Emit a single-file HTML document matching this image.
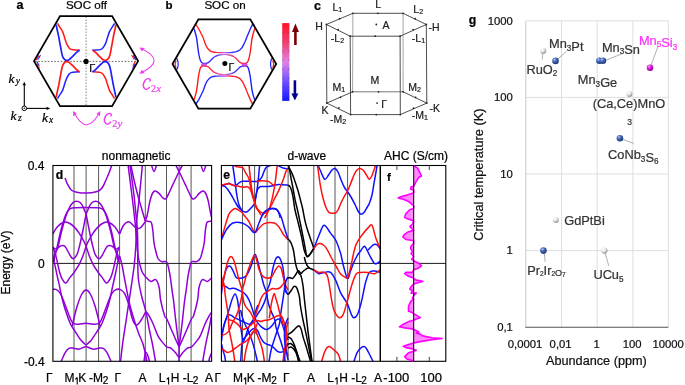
<!DOCTYPE html>
<html><head><meta charset="utf-8"><style>
html,body{margin:0;padding:0;background:#fff;width:685px;height:385px;overflow:hidden}
svg{display:block;will-change:transform}
text{font-family:"Liberation Sans",sans-serif}
</style></head><body>
<svg width="685" height="385" viewBox="0 0 685 385">
<rect width="685" height="385" fill="#fff"/>
<line x1="86.05" y1="16.5" x2="86.05" y2="105.5" stroke="#777" stroke-width="0.9" stroke-dasharray="1.5,1.5"/>
<line x1="35" y1="61.4" x2="137.5" y2="61.4" stroke="#555" stroke-width="0.9" stroke-dasharray="1.6,1.6"/>
<path d="M57.5,23.4C57.9,24.1 59.2,26.1 60.0,27.5C60.9,28.9 61.9,30.0 62.7,31.9C63.5,33.8 64.4,37.0 65.0,39.0C65.7,41.0 65.9,42.1 66.6,43.6C67.3,45.1 68.3,46.8 69.0,47.8C69.8,48.8 69.9,49.0 71.1,49.4C72.3,49.8 74.6,50.0 76.0,50.1C77.5,50.2 79.0,50.1 79.6,50.1" stroke="#ff1a1a" stroke-width="1.5" fill="none" />
<path d="M56.2,24.7C56.3,25.3 56.4,25.9 56.8,28.0C57.2,30.1 58.1,33.9 58.8,37.1C59.4,40.4 60.0,44.2 60.7,47.5C61.3,50.8 61.9,54.5 62.7,56.6C63.5,58.7 64.3,59.4 65.3,60.0C66.3,60.6 67.3,60.6 68.5,60.0C69.7,59.4 71.1,57.8 72.4,56.6C73.7,55.4 75.1,53.8 76.3,52.7C77.5,51.6 79.0,50.5 79.6,50.1" stroke="#2020ff" stroke-width="1.7" fill="none" />
<path d="M114.6,23.4C114.2,24.1 112.9,26.1 112.0,27.5C111.2,28.9 110.2,30.0 109.4,31.9C108.6,33.8 107.7,37.0 107.0,39.0C106.4,41.0 106.2,42.1 105.5,43.6C104.8,45.1 103.8,46.8 103.0,47.8C102.3,48.8 102.2,49.0 101.0,49.4C99.8,49.8 97.5,50.0 96.0,50.1C94.6,50.2 93.1,50.1 92.5,50.1" stroke="#2020ff" stroke-width="1.5" fill="none" />
<path d="M115.9,24.7C115.8,25.3 115.7,25.9 115.3,28.0C114.9,30.1 113.9,33.9 113.3,37.1C112.7,40.4 112.1,44.2 111.4,47.5C110.8,50.8 110.2,54.5 109.4,56.6C108.6,58.7 107.8,59.4 106.8,60.0C105.8,60.6 104.8,60.6 103.6,60.0C102.4,59.4 101.0,57.8 99.7,56.6C98.4,55.4 97.0,53.8 95.8,52.7C94.6,51.6 93.0,50.5 92.5,50.1" stroke="#ff1a1a" stroke-width="1.7" fill="none" />
<path d="M57.5,98.6C57.9,97.9 59.2,95.9 60.0,94.5C60.9,93.1 61.9,92.0 62.7,90.1C63.5,88.2 64.4,85.0 65.0,83.0C65.7,81.0 65.9,79.9 66.6,78.4C67.3,76.9 68.3,75.2 69.0,74.2C69.8,73.2 69.9,73.0 71.1,72.6C72.3,72.2 74.6,72.0 76.0,71.9C77.5,71.8 79.0,71.9 79.6,71.9" stroke="#2020ff" stroke-width="1.5" fill="none" />
<path d="M56.2,97.3C56.3,96.8 56.4,96.1 56.8,94.0C57.2,91.9 58.1,88.2 58.8,84.9C59.4,81.7 60.0,77.8 60.7,74.5C61.3,71.2 61.9,67.5 62.7,65.4C63.5,63.3 64.3,62.6 65.3,62.0C66.3,61.4 67.3,61.4 68.5,62.0C69.7,62.6 71.1,64.2 72.4,65.4C73.7,66.6 75.1,68.2 76.3,69.3C77.5,70.4 79.0,71.5 79.6,71.9" stroke="#ff1a1a" stroke-width="1.7" fill="none" />
<path d="M114.6,98.6C114.2,97.9 112.9,95.9 112.0,94.5C111.2,93.1 110.2,92.0 109.4,90.1C108.6,88.2 107.7,85.0 107.0,83.0C106.4,81.0 106.2,79.9 105.5,78.4C104.8,76.9 103.8,75.2 103.0,74.2C102.3,73.2 102.2,73.0 101.0,72.6C99.8,72.2 97.5,72.0 96.0,71.9C94.6,71.8 93.1,71.9 92.5,71.9" stroke="#ff1a1a" stroke-width="1.5" fill="none" />
<path d="M115.9,97.3C115.8,96.8 115.7,96.1 115.3,94.0C114.9,91.9 113.9,88.2 113.3,84.9C112.7,81.7 112.1,77.8 111.4,74.5C110.8,71.2 110.2,67.5 109.4,65.4C108.6,63.3 107.8,62.6 106.8,62.0C105.8,61.4 104.8,61.4 103.6,62.0C102.4,62.6 101.0,64.2 99.7,65.4C98.4,66.6 97.0,68.2 95.8,69.3C94.6,70.4 93.0,71.5 92.5,71.9" stroke="#2020ff" stroke-width="1.7" fill="none" />
<line x1="36.43" y1="59.70" x2="38.63" y2="55.89" stroke="#ff1a1a" stroke-width="1.1" stroke-linecap="round"/>
<line x1="38.06" y1="59.26" x2="40.27" y2="55.45" stroke="#2020ff" stroke-width="1.1" stroke-linecap="round"/>
<line x1="36.99" y1="61.88" x2="39.09" y2="65.52" stroke="#2020ff" stroke-width="1.1" stroke-linecap="round"/>
<line x1="37.03" y1="63.94" x2="39.33" y2="67.92" stroke="#ff1a1a" stroke-width="1.1" stroke-linecap="round"/>
<line x1="135.67" y1="59.70" x2="133.47" y2="55.89" stroke="#2020ff" stroke-width="1.1" stroke-linecap="round"/>
<line x1="134.03" y1="59.26" x2="131.84" y2="55.45" stroke="#ff1a1a" stroke-width="1.1" stroke-linecap="round"/>
<line x1="135.11" y1="61.88" x2="133.01" y2="65.52" stroke="#ff1a1a" stroke-width="1.1" stroke-linecap="round"/>
<line x1="135.07" y1="63.94" x2="132.77" y2="67.92" stroke="#2020ff" stroke-width="1.1" stroke-linecap="round"/>
<polygon points="34.0,61.1 60.0,16.1 112.1,16.1 138.1,61.1 112.1,106.1 60.0,106.1" fill="none" stroke="#000" stroke-width="1.8" stroke-linejoin="miter"/>
<circle cx="86.05" cy="61.4" r="2.6" fill="#000"/>
<text x="89.2" y="71.8" font-size="11" text-anchor="start" font-weight="normal" fill="#000"  stroke="#000" stroke-width="0.22">Γ</text>
<defs>
<linearGradient id="gRB" x1="0" y1="0" x2="1" y2="0"><stop offset="0" stop-color="#ff1a1a"/><stop offset="0.35" stop-color="#ff2a3a"/><stop offset="0.55" stop-color="#c050e0"/><stop offset="0.7" stop-color="#4040ff"/><stop offset="1" stop-color="#2020ff"/></linearGradient>
<linearGradient id="gBR" x1="0" y1="0" x2="1" y2="0"><stop offset="0" stop-color="#2020ff"/><stop offset="0.35" stop-color="#3030ff"/><stop offset="0.55" stop-color="#c050e0"/><stop offset="0.7" stop-color="#ff2a3a"/><stop offset="1" stop-color="#ff1a1a"/></linearGradient>
<linearGradient id="gOT" x1="0" y1="0" x2="1" y2="0"><stop offset="0" stop-color="#3030ff"/><stop offset="0.45" stop-color="#e070e0"/><stop offset="0.7" stop-color="#f060b0"/><stop offset="1" stop-color="#ff2040"/></linearGradient>
<linearGradient id="gOB" x1="0" y1="0" x2="1" y2="0"><stop offset="0" stop-color="#ff2040"/><stop offset="0.3" stop-color="#f060b0"/><stop offset="0.55" stop-color="#e070e0"/><stop offset="1" stop-color="#3030ff"/></linearGradient>
<linearGradient id="cbar" x1="0" y1="0" x2="0" y2="1"><stop offset="0" stop-color="#ff1028"/><stop offset="0.25" stop-color="#f04070"/><stop offset="0.5" stop-color="#e080e8"/><stop offset="0.75" stop-color="#7050ff"/><stop offset="1" stop-color="#1818ff"/></linearGradient>
<radialGradient id="sphB" cx="0.35" cy="0.3" r="0.75"><stop offset="0" stop-color="#b8cdf0"/><stop offset="0.35" stop-color="#4a6fc0"/><stop offset="1" stop-color="#1a2e6e"/></radialGradient>
<radialGradient id="sphW" cx="0.35" cy="0.3" r="0.75"><stop offset="0" stop-color="#ffffff"/><stop offset="0.45" stop-color="#e6e6e6"/><stop offset="1" stop-color="#8c8c8c"/></radialGradient>
<radialGradient id="sphM" cx="0.35" cy="0.3" r="0.75"><stop offset="0" stop-color="#ffa0ff"/><stop offset="0.4" stop-color="#e020e0"/><stop offset="1" stop-color="#8a008a"/></radialGradient>
</defs>
<linearGradient id="gRBu" gradientUnits="userSpaceOnUse" x1="210.35" y1="0" x2="238.35" y2="0"><stop offset="0" stop-color="#ff1a1a"/><stop offset="0.3" stop-color="#ff3050"/><stop offset="0.5" stop-color="#d060e0"/><stop offset="0.7" stop-color="#5040ff"/><stop offset="1" stop-color="#2020ff"/></linearGradient>
<linearGradient id="gBRu" gradientUnits="userSpaceOnUse" x1="210.35" y1="0" x2="238.35" y2="0"><stop offset="0" stop-color="#2020ff"/><stop offset="0.3" stop-color="#5040ff"/><stop offset="0.5" stop-color="#d060e0"/><stop offset="0.7" stop-color="#ff3050"/><stop offset="1" stop-color="#ff1a1a"/></linearGradient>
<linearGradient id="gOTu" gradientUnits="userSpaceOnUse" x1="205.35" y1="0" x2="243.35" y2="0"><stop offset="0" stop-color="#2020ff"/><stop offset="0.2" stop-color="#3a30ff"/><stop offset="0.5" stop-color="#c070e8"/><stop offset="0.8" stop-color="#ff3050"/><stop offset="1" stop-color="#ff1a1a"/></linearGradient>
<linearGradient id="gOBu" gradientUnits="userSpaceOnUse" x1="205.35" y1="0" x2="243.35" y2="0"><stop offset="0" stop-color="#ff1a1a"/><stop offset="0.2" stop-color="#ff3050"/><stop offset="0.5" stop-color="#e070d0"/><stop offset="0.8" stop-color="#3a30ff"/><stop offset="1" stop-color="#2020ff"/></linearGradient>
<path d="M195.8,24.5C196.4,25.4 198.0,27.5 199.2,29.7C200.3,31.9 201.9,35.0 203.0,37.5C204.1,40.0 204.9,43.1 205.8,45.0C206.6,46.9 207.2,47.9 208.2,49.0C209.1,50.1 210.2,51.1 211.6,51.7C213.0,52.3 214.5,52.2 216.3,52.4C218.2,52.5 220.3,52.6 222.5,52.6C224.8,52.6 228.2,52.7 230.0,52.6C231.9,52.5 232.5,52.4 233.8,52.2C235.2,52.0 236.5,51.9 237.8,51.2C239.2,50.5 240.7,49.2 241.8,47.8C243.0,46.3 243.7,44.5 244.7,42.5C245.6,40.5 246.6,37.8 247.5,35.5C248.5,33.2 249.7,30.4 250.5,28.5C251.4,26.6 252.3,24.9 252.7,24.2" stroke="url(#gRBu)" stroke-width="1.35" fill="none"/>
<path d="M195.8,104.1C196.4,103.2 198.0,101.1 199.2,98.9C200.3,96.7 201.9,93.6 203.0,91.1C204.1,88.5 204.9,85.5 205.8,83.6C206.6,81.7 207.2,80.7 208.2,79.6C209.1,78.5 210.2,77.5 211.6,76.9C213.0,76.3 214.5,76.3 216.3,76.2C218.2,76.0 220.3,76.0 222.5,76.0C224.8,76.0 228.2,75.9 230.0,76.0C231.9,76.1 232.5,76.2 233.8,76.4C235.2,76.6 236.5,76.7 237.8,77.4C239.2,78.1 240.7,79.3 241.8,80.8C243.0,82.2 243.7,84.0 244.7,86.1C245.6,88.1 246.6,90.8 247.5,93.1C248.5,95.4 249.7,98.2 250.5,100.1C251.4,102.0 252.3,103.7 252.7,104.4" stroke="url(#gBRu)" stroke-width="1.35" fill="none"/>
<path d="M193.9,28.4C194.3,29.9 195.7,33.4 196.5,37.5C197.3,41.6 197.9,49.1 198.6,53.0C199.3,56.9 199.8,59.1 200.5,60.8C201.2,62.5 201.7,62.7 202.5,63.1C203.3,63.5 204.4,63.5 205.3,63.4C206.3,63.3 207.3,63.2 208.3,62.6C209.3,62.0 210.3,60.7 211.3,59.8C212.3,58.9 213.0,57.8 214.3,57.0C215.7,56.2 217.7,55.4 219.3,55.0C221.0,54.6 222.7,54.4 224.3,54.4C226.0,54.4 227.7,54.6 229.3,55.0C231.0,55.4 233.0,56.2 234.3,57.0C235.7,57.8 236.3,58.9 237.3,59.8C238.3,60.7 239.3,62.0 240.3,62.6C241.3,63.2 242.4,63.3 243.3,63.4C244.3,63.5 245.4,63.5 246.2,63.1C247.0,62.7 247.5,62.5 248.2,60.8C248.8,59.1 249.4,56.9 250.1,53.0C250.8,49.1 251.4,41.6 252.2,37.5C253.0,33.4 254.4,29.9 254.8,28.4" stroke="url(#gOTu)" stroke-width="1.4" fill="none"/>
<path d="M193.9,100.2C194.3,98.7 195.7,95.2 196.5,91.1C197.3,87.0 197.9,79.5 198.6,75.6C199.3,71.7 199.8,69.4 200.5,67.8C201.2,66.2 201.7,66.3 202.5,66.0C203.3,65.7 204.4,65.8 205.3,66.0C206.3,66.2 207.3,66.3 208.3,66.9C209.3,67.5 210.3,68.9 211.3,69.8C212.3,70.7 213.0,71.6 214.3,72.3C215.7,73.0 217.7,73.7 219.3,74.1C221.0,74.5 222.7,74.6 224.3,74.6C226.0,74.6 227.7,74.5 229.3,74.1C231.0,73.7 233.0,73.0 234.3,72.3C235.7,71.6 236.3,70.7 237.3,69.8C238.3,68.9 239.3,67.5 240.3,66.9C241.3,66.3 242.4,66.2 243.3,66.0C244.3,65.8 245.4,65.7 246.2,66.0C247.0,66.3 247.5,66.2 248.2,67.8C248.8,69.4 249.4,71.7 250.1,75.6C250.8,79.5 251.4,87.0 252.2,91.1C253.0,95.2 254.4,98.7 254.8,100.2" stroke="url(#gOBu)" stroke-width="1.4" fill="none"/>
<ellipse cx="244.65" cy="64.7" rx="3.0" ry="1.7" fill="#d040d0" opacity="0.9"/>
<ellipse cx="204.04999999999998" cy="64.7" rx="3.0" ry="1.7" fill="#d040d0" opacity="0.9"/>
<path d="M176.1,60.6C176.0,61.0 175.5,62.2 175.3,62.8C175.2,63.4 175.2,63.8 175.2,64.3C175.2,64.8 175.2,65.2 175.3,65.8C175.5,66.3 176.0,67.3 176.1,67.6" stroke="#ff1a1a" stroke-width="1.2" fill="none" />
<path d="M176.3,57.8C176.5,58.2 177.4,59.4 177.7,60.5C178.0,61.6 178.1,63.1 178.1,64.3C178.1,65.5 178.0,66.5 177.7,67.5C177.4,68.5 176.5,69.8 176.3,70.2" stroke="#2020ff" stroke-width="1.2" fill="none" />
<path d="M272.6,60.6C272.7,61.0 273.2,62.2 273.4,62.8C273.5,63.4 273.5,63.8 273.5,64.3C273.5,64.8 273.5,65.2 273.4,65.8C273.2,66.3 272.7,67.3 272.6,67.6" stroke="#ff1a1a" stroke-width="1.2" fill="none" />
<path d="M272.4,57.8C272.2,58.2 271.3,59.4 271.0,60.5C270.7,61.6 270.6,63.1 270.6,64.3C270.6,65.5 270.7,66.5 271.0,67.5C271.3,68.5 272.2,69.8 272.4,70.2" stroke="#2020ff" stroke-width="1.2" fill="none" />
<polygon points="172.5,64.0 198.4,19.3 250.3,19.3 276.2,64.0 250.3,108.7 198.4,108.7" fill="none" stroke="#000" stroke-width="1.8" stroke-linejoin="miter"/>
<circle cx="224.85" cy="63.5" r="2.5" fill="#000"/>
<text x="228.4" y="70.6" font-size="10.5" text-anchor="start" font-weight="normal" fill="#000"  stroke="#000" stroke-width="0.22">Γ</text>
<rect x="282.2" y="23.1" width="7.2" height="77.8" fill="url(#cbar)"/>
<line x1="282.2" y1="32.7" x2="283.6" y2="32.7" stroke="#555" stroke-width="0.6"/><line x1="288" y1="32.7" x2="289.4" y2="32.7" stroke="#555" stroke-width="0.6"/>
<line x1="282.2" y1="41.9" x2="283.6" y2="41.9" stroke="#555" stroke-width="0.6"/><line x1="288" y1="41.9" x2="289.4" y2="41.9" stroke="#555" stroke-width="0.6"/>
<line x1="282.2" y1="51.1" x2="283.6" y2="51.1" stroke="#555" stroke-width="0.6"/><line x1="288" y1="51.1" x2="289.4" y2="51.1" stroke="#555" stroke-width="0.6"/>
<line x1="282.2" y1="60.2" x2="283.6" y2="60.2" stroke="#555" stroke-width="0.6"/><line x1="288" y1="60.2" x2="289.4" y2="60.2" stroke="#555" stroke-width="0.6"/>
<line x1="282.2" y1="69.2" x2="283.6" y2="69.2" stroke="#555" stroke-width="0.6"/><line x1="288" y1="69.2" x2="289.4" y2="69.2" stroke="#555" stroke-width="0.6"/>
<line x1="282.2" y1="78.3" x2="283.6" y2="78.3" stroke="#555" stroke-width="0.6"/><line x1="288" y1="78.3" x2="289.4" y2="78.3" stroke="#555" stroke-width="0.6"/>
<line x1="282.2" y1="87.5" x2="283.6" y2="87.5" stroke="#555" stroke-width="0.6"/><line x1="288" y1="87.5" x2="289.4" y2="87.5" stroke="#555" stroke-width="0.6"/>
<rect x="294.1" y="31" width="2.6" height="14" fill="#7a0008"/><polygon points="292,32 295.4,23.6 299,32" fill="#7a0008"/>
<rect x="293.6" y="80.3" width="2.6" height="14" fill="#000090"/><polygon points="291.4,93.5 294.9,100.6 298.4,93.5" fill="#000090"/>
<text x="16.4" y="8.9" font-size="12.5" text-anchor="start" font-weight="bold" fill="#000"  stroke="#000" stroke-width="0.22">a</text>
<text x="65.9" y="8.8" font-size="11.6" text-anchor="start" font-weight="normal" fill="#000"  stroke="#000" stroke-width="0.22">SOC off</text>
<text x="165.6" y="9.0" font-size="11.5" text-anchor="start" font-weight="bold" fill="#000"  stroke="#000" stroke-width="0.22">b</text>
<text x="204.4" y="8.8" font-size="11.6" text-anchor="start" font-weight="normal" fill="#000"  stroke="#000" stroke-width="0.22">SOC on</text>
<text x="314.0" y="9.8" font-size="12.5" text-anchor="start" font-weight="bold" fill="#000"  stroke="#000" stroke-width="0.22">c</text>
<path d="M141.2,48.4 Q167,60.5 141.2,72.8" stroke="#ee40ee" stroke-width="1.1" fill="none"/>
<polygon points="139.4,47.4 144.8,47.9 141.9,51.4" fill="#ee40ee"/><polygon points="139.4,73.8 144.8,73.3 141.9,69.8" fill="#ee40ee"/>
<path d="M74,112.4 Q86.8,137 99.4,112.6" stroke="#ee40ee" stroke-width="1.1" fill="none"/>
<polygon points="73.0,110.9 73.3,116.4 76.8,113.6" fill="#ee40ee"/><polygon points="100.3,111.1 99.9,116.6 96.5,113.7" fill="#ee40ee"/>
<path d="M150.4,79.7C150.1,79.5 149.5,78.7 148.8,78.6C148.1,78.5 147.0,78.7 146.2,79.2C145.4,79.7 144.7,80.8 144.2,81.8C143.7,82.8 143.2,83.9 143.1,84.9C143.0,85.9 143.5,87.3 143.9,88.0C144.3,88.7 145.1,89.2 145.7,89.3C146.4,89.4 147.1,89.2 147.8,88.8C148.5,88.4 149.6,87.3 149.9,87.0" stroke="#ee40ee" stroke-width="1.25" fill="none"/><path d="M146.7,79.2C146.3,79.6 145.2,80.8 144.7,81.8C144.1,82.8 143.6,83.9 143.5,84.9C143.5,85.9 143.9,87.3 144.3,88.0C144.8,88.7 145.8,89.1 146.2,89.3" stroke="#ee40ee" stroke-width="0.9" fill="none"/><circle cx="150.20000000000002" cy="80.1" r="0.95" fill="#ee40ee"/><path d="M150.5,80.19999999999999 Q150.20000000000002,81.39999999999999 149.5,81.89999999999999" stroke="#ee40ee" stroke-width="0.8" fill="none"/>
<text x="150.9" y="91.9" style="font-family:Liberation Serif,serif" font-size="10" fill="#ee40ee" stroke="#ee40ee" stroke-width="0.22">2</text><text x="156.3" y="91.9" style="font-family:Liberation Serif,serif;font-style:italic" font-size="11" fill="#ee40ee" stroke="#ee40ee" stroke-width="0.22">x</text>
<path d="M111.5,114.5C111.2,114.3 110.6,113.5 109.9,113.4C109.2,113.3 108.1,113.5 107.3,114.0C106.5,114.5 105.8,115.7 105.3,116.6C104.8,117.6 104.2,118.7 104.2,119.7C104.2,120.7 104.6,122.1 105.0,122.8C105.4,123.5 106.1,124.0 106.8,124.1C107.5,124.2 108.2,124.0 108.9,123.6C109.6,123.2 110.7,122.1 111.0,121.8" stroke="#ee40ee" stroke-width="1.25" fill="none"/><path d="M107.8,114.0C107.4,114.4 106.3,115.7 105.8,116.6C105.2,117.6 104.7,118.7 104.7,119.7C104.6,120.7 105.0,122.1 105.5,122.8C105.9,123.5 107.0,123.9 107.2,124.1" stroke="#ee40ee" stroke-width="0.9" fill="none"/><circle cx="111.3" cy="114.9" r="0.95" fill="#ee40ee"/><path d="M111.6,115.0 Q111.3,116.2 110.6,116.7" stroke="#ee40ee" stroke-width="0.8" fill="none"/>
<text x="112.3" y="126.9" style="font-family:Liberation Serif,serif" font-size="10" fill="#ee40ee" stroke="#ee40ee" stroke-width="0.22">2</text><text x="117.6" y="126.6" style="font-family:Liberation Serif,serif;font-style:italic" font-size="11" fill="#ee40ee" stroke="#ee40ee" stroke-width="0.22">y</text>
<line x1="24.3" y1="108.4" x2="24.3" y2="85" stroke="#000" stroke-width="1.1"/><polygon points="22.6,85.3 24.3,81.8 26.0,85.3" fill="#000"/>
<line x1="24.3" y1="108.4" x2="47.5" y2="108.4" stroke="#000" stroke-width="1.1"/><polygon points="46.6,106.7 50.2,108.4 46.6,110.1" fill="#000"/>
<circle cx="24.3" cy="108.3" r="2.3" fill="#fff" stroke="#000" stroke-width="1.0"/><circle cx="24.3" cy="108.3" r="0.7" fill="#000"/>
<text x="8.4" y="82.6" style="font-family:Liberation Serif,serif;font-style:italic" font-size="13.5" stroke="#000" stroke-width="0.22">k</text><text x="15.7" y="84.39999999999999" style="font-family:Liberation Serif,serif;font-style:italic" font-size="9.5" stroke="#000" stroke-width="0.22">y</text>
<text x="10.6" y="119.8" style="font-family:Liberation Serif,serif;font-style:italic" font-size="13.5" stroke="#000" stroke-width="0.22">k</text><text x="18.0" y="121.39999999999999" style="font-family:Liberation Serif,serif;font-style:italic" font-size="9.5" stroke="#000" stroke-width="0.22">z</text>
<text x="42.0" y="121.8" style="font-family:Liberation Serif,serif;font-style:italic" font-size="13.5" stroke="#000" stroke-width="0.22">k</text><text x="49.0" y="123.39999999999999" style="font-family:Liberation Serif,serif;font-style:italic" font-size="9.5" stroke="#000" stroke-width="0.22">x</text>
<line x1="352.9" y1="13.3" x2="352.6" y2="91.8" stroke="#9a9a9a" stroke-width="0.9"/>
<line x1="403.1" y1="13.3" x2="403.1" y2="91.8" stroke="#9a9a9a" stroke-width="0.9"/>
<line x1="326.8" y1="103.1" x2="352.6" y2="91.8" stroke="#3a3a3a" stroke-width="0.9"/>
<line x1="352.6" y1="91.8" x2="403.1" y2="91.8" stroke="#666" stroke-width="0.9"/>
<line x1="403.1" y1="91.8" x2="426.8" y2="103.1" stroke="#3a3a3a" stroke-width="0.9"/>
<line x1="326.4" y1="24.5" x2="352.9" y2="13.3" stroke="#3a3a3a" stroke-width="0.9"/>
<line x1="352.9" y1="13.3" x2="403.1" y2="13.3" stroke="#3a3a3a" stroke-width="0.9"/>
<line x1="403.1" y1="13.3" x2="426.3" y2="24.5" stroke="#3a3a3a" stroke-width="0.9"/>
<line x1="426.3" y1="24.5" x2="400.1" y2="36.2" stroke="#3a3a3a" stroke-width="0.9"/>
<line x1="400.1" y1="36.2" x2="350.2" y2="36.2" stroke="#3a3a3a" stroke-width="0.9"/>
<line x1="350.2" y1="36.2" x2="326.4" y2="24.5" stroke="#3a3a3a" stroke-width="0.9"/>
<line x1="426.8" y1="103.1" x2="400.3" y2="114.6" stroke="#3a3a3a" stroke-width="0.9"/>
<line x1="400.3" y1="114.6" x2="350.6" y2="114.6" stroke="#3a3a3a" stroke-width="0.9"/>
<line x1="350.6" y1="114.6" x2="326.8" y2="103.1" stroke="#3a3a3a" stroke-width="0.9"/>
<line x1="326.4" y1="24.5" x2="326.8" y2="103.1" stroke="#3a3a3a" stroke-width="0.9"/>
<line x1="426.3" y1="24.5" x2="426.8" y2="103.1" stroke="#3a3a3a" stroke-width="0.9"/>
<line x1="350.2" y1="36.2" x2="350.6" y2="114.6" stroke="#3a3a3a" stroke-width="0.9"/>
<line x1="400.1" y1="36.2" x2="400.3" y2="114.6" stroke="#3a3a3a" stroke-width="0.9"/>
<circle cx="377.8" cy="13.3" r="0.9" fill="#222"/>
<circle cx="376.3" cy="24.5" r="0.9" fill="#222"/>
<circle cx="375.2" cy="36.2" r="0.9" fill="#222"/>
<circle cx="339.6" cy="18.7" r="0.9" fill="#222"/>
<circle cx="338.1" cy="29.6" r="0.9" fill="#222"/>
<circle cx="415.1" cy="18.7" r="0.9" fill="#222"/>
<circle cx="413.1" cy="29.6" r="0.9" fill="#222"/>
<circle cx="378.6" cy="91.8" r="0.9" fill="#222"/>
<circle cx="377.1" cy="103.1" r="0.9" fill="#222"/>
<circle cx="376.3" cy="114.6" r="0.9" fill="#222"/>
<circle cx="340.4" cy="97.3" r="0.9" fill="#222"/>
<circle cx="338.9" cy="107.9" r="0.9" fill="#222"/>
<circle cx="415.6" cy="97.3" r="0.9" fill="#222"/>
<circle cx="413.5" cy="108.2" r="0.9" fill="#222"/>
<circle cx="352.9" cy="13.3" r="0.9" fill="#222"/>
<circle cx="403.1" cy="13.3" r="0.9" fill="#222"/>
<circle cx="326.4" cy="24.5" r="0.9" fill="#222"/>
<circle cx="426.3" cy="24.5" r="0.9" fill="#222"/>
<circle cx="400.1" cy="36.2" r="0.9" fill="#222"/>
<circle cx="350.2" cy="36.2" r="0.9" fill="#222"/>
<circle cx="326.8" cy="103.1" r="0.9" fill="#222"/>
<circle cx="426.8" cy="103.1" r="0.9" fill="#222"/>
<circle cx="350.6" cy="114.6" r="0.9" fill="#222"/>
<circle cx="400.3" cy="114.6" r="0.9" fill="#222"/>
<circle cx="352.6" cy="91.8" r="0.9" fill="#222"/>
<circle cx="403.1" cy="91.8" r="0.9" fill="#222"/>
<text x="332.4" y="10.6" font-size="10.5" fill="#222" stroke="#222" stroke-width="0.22">L<tspan font-size="7.1" dy="1.0">1</tspan></text>
<text x="375.3" y="7.5" font-size="10.5" fill="#222" stroke="#222" stroke-width="0.22">L</text>
<text x="413.3" y="12.5" font-size="10.5" fill="#222" stroke="#222" stroke-width="0.22">L<tspan font-size="7.1" dy="1.0">2</tspan></text>
<text x="315.3" y="30.0" font-size="10.5" fill="#222" stroke="#222" stroke-width="0.22">H</text>
<text x="428.6" y="30.6" font-size="10.5" fill="#222" stroke="#222" stroke-width="0.22">-H</text>
<text x="382.6" y="28.8" font-size="10.5" fill="#222" stroke="#222" stroke-width="0.22">A</text>
<text x="330.8" y="42.0" font-size="10.5" fill="#222" stroke="#222" stroke-width="0.22">-L<tspan font-size="7.1" dy="1.0">2</tspan></text>
<text x="411.8" y="41.6" font-size="10.5" fill="#222" stroke="#222" stroke-width="0.22">-L<tspan font-size="7.1" dy="1.0">1</tspan></text>
<text x="332.4" y="91.0" font-size="10.5" fill="#222" stroke="#222" stroke-width="0.22">M<tspan font-size="7.1" dy="1.0">1</tspan></text>
<text x="370.6" y="84.0" font-size="10.5" fill="#222" stroke="#222" stroke-width="0.22">M</text>
<text x="408.3" y="91.1" font-size="10.5" fill="#222" stroke="#222" stroke-width="0.22">M<tspan font-size="7.1" dy="1.0">2</tspan></text>
<text x="321.5" y="114.4" font-size="10.5" fill="#222" stroke="#222" stroke-width="0.22">K</text>
<text x="429.4" y="112.3" font-size="10.5" fill="#222" stroke="#222" stroke-width="0.22">-K</text>
<text x="381.2" y="108.2" font-size="10.5" fill="#222" stroke="#222" stroke-width="0.22">Γ</text>
<text x="330.1" y="122.5" font-size="10.5" fill="#222" stroke="#222" stroke-width="0.22">-M<tspan font-size="7.1" dy="1.0">2</tspan></text>
<text x="411.8" y="119.3" font-size="10.5" fill="#222" stroke="#222" stroke-width="0.22">-M<tspan font-size="7.1" dy="1.0">1</tspan></text>
<clipPath id="clipd"><rect x="52.9" y="165.5" width="158.7" height="195.8"/></clipPath>
<line x1="74.0" y1="165.5" x2="74.0" y2="361.3" stroke="#444" stroke-width="0.9"/>
<line x1="86.1" y1="165.5" x2="86.1" y2="361.3" stroke="#444" stroke-width="0.9"/>
<line x1="98.6" y1="165.5" x2="98.6" y2="361.3" stroke="#444" stroke-width="0.9"/>
<line x1="119.6" y1="165.5" x2="119.6" y2="361.3" stroke="#444" stroke-width="0.9"/>
<line x1="145.3" y1="165.5" x2="145.3" y2="361.3" stroke="#444" stroke-width="0.9"/>
<line x1="166.5" y1="165.5" x2="166.5" y2="361.3" stroke="#444" stroke-width="0.9"/>
<line x1="179.1" y1="165.5" x2="179.1" y2="361.3" stroke="#444" stroke-width="0.9"/>
<line x1="191.1" y1="165.5" x2="191.1" y2="361.3" stroke="#444" stroke-width="0.9"/>
<line x1="52.9" y1="263.4" x2="211.6" y2="263.4" stroke="#000" stroke-width="0.9"/>
<g clip-path="url(#clipd)">
<path d="M65.0,177.9C65.4,179.0 66.5,182.3 67.6,184.4C68.7,186.5 70.0,189.0 71.5,190.3C73.0,191.6 74.2,191.7 76.7,192.2C79.2,192.7 83.2,193.2 86.4,193.1C89.7,193.0 93.9,192.4 96.2,191.8C98.5,191.2 99.3,190.6 100.5,189.6C101.7,188.6 102.4,187.3 103.2,186.0C104.0,184.7 104.4,183.6 105.3,181.5C106.2,179.4 107.6,176.4 108.8,173.5C110.0,170.6 111.6,165.6 112.2,164.0" stroke="#9000d8" stroke-width="1.5" fill="none" />
<path d="M86.1,345.1C85.2,344.3 82.7,342.3 81.0,340.3C79.3,338.3 77.5,335.1 76.2,333.2C75.0,331.3 74.5,330.5 73.5,329.0C72.5,327.5 71.8,326.8 70.5,324.0C69.2,321.2 67.3,316.0 66.0,312.0C64.7,308.0 63.6,304.5 62.5,300.0C61.4,295.5 60.3,290.0 59.3,285.2C58.2,280.4 57.0,275.1 56.2,271.2C55.4,267.3 54.7,264.4 54.3,262.0C53.9,259.6 53.7,258.7 53.9,257.0C54.1,255.3 54.9,253.6 55.5,252.0C56.1,250.4 56.8,251.2 57.8,247.7C58.8,244.2 60.4,235.9 61.7,230.8C63.0,225.7 64.5,220.7 65.6,217.1C66.7,213.5 67.5,211.6 68.5,209.5C69.5,207.4 70.5,205.6 71.5,204.3C72.5,203.0 73.5,202.1 74.7,201.6C75.9,201.1 77.4,201.1 78.6,201.6C79.8,202.1 80.9,203.1 81.9,204.6C82.9,206.1 83.8,208.8 84.5,210.5C85.2,212.2 85.3,211.2 86.1,214.5C86.9,217.8 88.2,225.1 89.2,230.0C90.2,234.9 91.2,240.0 92.2,244.0C93.2,248.0 93.9,251.6 95.0,254.0C96.1,256.4 97.6,258.4 98.8,258.7C100.0,259.0 100.6,257.7 102.0,255.6C103.4,253.5 105.7,247.8 107.4,246.2C109.1,244.6 110.7,245.7 112.1,246.2C113.5,246.7 114.8,248.8 116.0,249.0C117.2,249.2 119.0,247.5 119.6,247.2" stroke="#9000d8" stroke-width="1.5" fill="none" />
<path d="M52.6,247.2C53.2,247.5 54.9,249.2 56.2,249.0C57.4,248.8 58.7,246.7 60.1,246.2C61.5,245.7 63.1,244.6 64.8,246.2C66.5,247.8 68.8,253.5 70.2,255.6C71.6,257.7 72.2,259.0 73.4,258.7C74.6,258.4 76.1,256.4 77.2,254.0C78.3,251.6 79.0,248.0 80.0,244.0C81.0,240.0 82.0,234.9 83.0,230.0C84.0,225.1 85.3,217.8 86.1,214.5C86.9,211.2 87.0,212.2 87.7,210.5C88.4,208.8 89.3,206.1 90.3,204.6C91.3,203.1 92.4,202.1 93.6,201.6C94.8,201.1 96.3,201.1 97.5,201.6C98.7,202.1 99.7,203.0 100.7,204.3C101.7,205.6 102.7,207.4 103.7,209.5C104.7,211.6 105.5,213.5 106.6,217.1C107.7,220.7 109.2,225.7 110.5,230.8C111.8,235.9 113.4,244.2 114.4,247.7C115.4,251.2 116.0,250.4 116.7,252.0C117.3,253.6 118.1,255.3 118.3,257.0C118.5,258.7 118.3,259.6 117.9,262.0C117.5,264.4 116.8,267.3 116.0,271.2C115.2,275.1 113.9,280.4 112.9,285.2C111.8,290.0 110.8,295.5 109.7,300.0C108.6,304.5 107.5,308.0 106.2,312.0C104.9,316.0 102.9,321.2 101.7,324.0C100.4,326.8 99.6,327.5 98.7,329.0C97.7,330.5 97.2,331.3 96.0,333.2C94.7,335.1 92.8,338.3 91.2,340.3C89.5,342.3 86.9,344.3 86.1,345.1" stroke="#9000d8" stroke-width="1.5" fill="none" />
<path d="M53.5,262.0C53.9,260.3 54.8,257.0 56.0,252.0C57.2,247.0 59.1,237.7 60.5,232.0C61.9,226.3 63.3,221.4 64.5,218.0C65.7,214.6 66.5,213.1 67.5,211.5C68.5,209.9 69.2,209.2 70.5,208.6C71.8,208.0 72.4,208.0 75.0,207.8C77.6,207.6 82.4,207.6 86.1,207.6C89.8,207.6 94.4,207.6 97.0,207.8C99.6,208.0 100.3,208.0 101.6,208.6C102.9,209.2 103.6,209.9 104.6,211.5C105.6,213.1 106.4,214.6 107.6,218.0C108.8,221.4 110.2,226.3 111.6,232.0C113.0,237.7 114.8,247.0 116.0,252.0C117.2,257.0 118.1,260.3 118.5,262.0" stroke="#9000d8" stroke-width="1.5" fill="none" />
<path d="M52.9,234.0C53.6,232.8 55.4,228.8 57.2,226.9C59.0,225.0 61.8,223.0 63.7,222.3C65.7,221.7 67.2,222.2 68.9,223.0C70.6,223.8 72.4,225.2 74.1,226.9C75.8,228.6 77.6,230.8 79.3,233.4C81.0,236.0 83.2,239.9 84.5,242.5C85.8,245.1 86.1,246.6 87.0,249.0C87.9,251.4 88.6,254.3 89.7,257.0C90.8,259.7 92.1,262.7 93.6,265.4C95.1,268.1 97.4,271.2 98.8,273.2C100.2,275.1 100.7,275.5 102.0,277.1C103.3,278.7 105.1,282.8 106.5,283.0C107.9,283.2 109.3,280.5 110.4,278.4C111.5,276.3 112.1,273.9 113.0,270.6C113.9,267.4 114.8,262.2 115.6,258.9C116.4,255.6 116.9,252.9 117.6,251.0C118.3,249.1 119.3,248.2 119.6,247.7" stroke="#9000d8" stroke-width="1.5" fill="none" />
<path d="M52.6,247.7C52.9,248.2 53.9,249.1 54.6,251.0C55.3,252.9 55.8,255.6 56.6,258.9C57.4,262.2 58.3,267.4 59.2,270.6C60.1,273.9 60.7,276.3 61.8,278.4C62.9,280.5 64.3,283.2 65.7,283.0C67.1,282.8 68.9,278.7 70.2,277.1C71.5,275.5 72.0,275.1 73.4,273.2C74.8,271.2 77.1,268.1 78.6,265.4C80.1,262.7 81.4,259.7 82.5,257.0C83.6,254.3 84.3,251.4 85.2,249.0C86.1,246.6 86.4,245.1 87.7,242.5C89.0,239.9 91.2,236.0 92.9,233.4C94.6,230.8 96.4,228.6 98.1,226.9C99.8,225.2 101.6,223.8 103.3,223.0C105.0,222.2 106.5,221.7 108.5,222.3C110.4,223.0 113.2,225.0 115.0,226.9C116.8,228.8 118.6,232.8 119.3,234.0" stroke="#9000d8" stroke-width="1.5" fill="none" />
<path d="M52.9,289.4C53.4,289.4 54.8,288.8 55.9,289.4C57.0,289.9 58.5,290.8 59.8,292.7C61.1,294.6 62.2,297.3 63.7,301.0C65.2,304.7 67.4,311.3 68.9,315.0C70.4,318.7 71.2,321.5 72.8,323.0C74.4,324.5 76.4,324.1 78.6,324.2C80.8,324.2 83.6,323.3 86.0,323.3C88.4,323.3 90.9,324.2 93.1,324.2C95.3,324.1 97.5,324.5 99.2,323.0C100.9,321.5 101.8,318.7 103.3,315.0C104.8,311.3 107.0,304.7 108.5,301.0C110.0,297.3 111.1,294.6 112.4,292.7C113.7,290.8 115.1,289.9 116.3,289.4C117.5,288.8 119.0,289.4 119.6,289.4" stroke="#9000d8" stroke-width="1.5" fill="none" />
<path d="M72.3,326.0C72.6,324.7 73.1,321.5 74.0,318.0C74.9,314.5 76.2,309.0 77.5,305.0C78.8,301.0 80.5,296.5 81.9,294.0C83.3,291.5 84.7,290.1 86.1,290.1C87.5,290.1 88.9,291.5 90.3,294.0C91.7,296.5 93.4,301.0 94.7,305.0C96.0,309.0 97.3,314.5 98.2,318.0C99.1,321.5 99.6,324.7 99.9,326.0" stroke="#9000d8" stroke-width="1.5" fill="none" />
<path d="M60.9,362.0C61.6,360.5 63.6,355.4 64.9,353.1C66.2,350.8 67.4,349.1 68.9,348.3C70.4,347.5 72.0,348.2 73.7,348.3C75.5,348.4 77.4,349.4 79.4,349.1C81.5,348.8 83.8,346.7 86.0,346.7C88.2,346.7 90.7,348.8 92.8,349.1C94.9,349.4 96.8,348.4 98.5,348.3C100.2,348.2 101.8,347.5 103.3,348.3C104.8,349.1 106.0,350.8 107.3,353.1C108.6,355.4 110.6,360.5 111.3,362.0" stroke="#9000d8" stroke-width="1.5" fill="none" />
<path d="M128.0,164.0C128.3,166.7 129.2,174.0 130.0,180.0C130.8,186.0 131.6,192.5 132.5,200.0C133.4,207.5 134.7,218.5 135.3,224.8C135.9,231.1 136.3,231.5 136.2,238.0C136.0,244.5 135.1,256.6 134.4,263.6C133.7,270.6 133.1,273.7 132.2,280.0C131.3,286.3 130.1,294.2 129.0,301.3C127.9,308.4 126.9,315.5 125.8,322.6C124.7,329.7 123.5,337.2 122.6,343.8C121.7,350.4 120.8,359.0 120.5,362.0" stroke="#9000d8" stroke-width="1.5" fill="none" />
<path d="M119.6,256.0C120.0,257.5 121.1,261.0 122.0,265.0C122.9,269.0 123.6,273.9 124.8,280.0C126.0,286.1 127.6,295.1 129.0,301.3C130.4,307.5 131.7,311.9 133.3,317.2C134.9,322.5 137.0,328.8 138.6,333.2C140.2,337.6 141.7,339.9 142.9,343.8C144.1,347.7 145.3,353.6 146.0,356.6C146.7,359.6 146.9,361.1 147.1,362.0" stroke="#9000d8" stroke-width="1.5" fill="none" />
<path d="M129.8,164.0C130.2,166.7 131.2,174.0 132.0,180.0C132.8,186.0 133.7,192.2 134.5,200.0C135.3,207.8 136.5,219.1 137.1,226.6C137.7,234.1 137.7,238.9 137.8,245.0C137.9,251.1 137.7,257.2 137.8,263.0C137.9,268.8 137.8,274.3 138.5,280.0C139.2,285.7 140.6,291.7 141.8,297.0C143.1,302.3 144.8,306.6 146.0,311.9C147.2,317.2 148.1,323.7 149.2,329.0C150.3,334.3 151.3,338.3 152.4,343.8C153.5,349.3 155.1,359.0 155.6,362.0" stroke="#9000d8" stroke-width="1.5" fill="none" />
<path d="M130.7,164.0C131.2,166.7 132.8,174.7 134.0,180.0C135.2,185.3 136.7,191.0 138.0,196.0C139.3,201.0 140.8,205.8 142.0,210.0C143.2,214.2 144.8,219.3 145.3,221.2" stroke="#9000d8" stroke-width="1.5" fill="none" />
<path d="M119.6,234.0C120.2,232.6 122.0,227.5 123.5,225.5C125.0,223.5 126.9,221.5 128.9,221.8C130.9,222.1 133.5,226.2 135.3,227.3C137.1,228.4 138.1,229.1 139.8,228.2C141.5,227.3 144.4,222.9 145.3,221.8" stroke="#9000d8" stroke-width="1.5" fill="none" />
<path d="M142.5,164.0C142.2,166.7 141.6,174.0 141.0,180.0C140.4,186.0 139.8,192.2 139.0,200.0C138.2,207.8 136.6,219.9 136.2,226.6C135.8,233.3 136.2,235.3 136.5,240.0C136.8,244.7 137.4,250.8 138.0,255.0C138.6,259.2 139.3,262.1 140.0,265.0C140.7,267.9 141.3,270.2 142.3,272.3C143.3,274.4 144.8,276.0 146.2,277.5C147.6,279.0 149.2,281.1 150.7,281.4C152.2,281.7 153.9,279.5 155.0,279.4C156.1,279.3 156.3,279.6 157.0,281.0C157.7,282.4 158.7,284.8 159.3,288.0C159.9,291.2 159.7,295.3 160.6,300.0C161.5,304.7 163.7,313.0 164.7,316.1C165.7,319.2 165.5,316.4 166.6,318.5C167.7,320.6 169.5,325.4 171.1,329.0C172.7,332.6 174.7,337.3 176.0,340.3C177.3,343.3 178.6,345.7 179.1,346.8" stroke="#9000d8" stroke-width="1.5" fill="none" />
<path d="M179.1,346.8C179.6,345.7 180.9,343.3 182.2,340.3C183.5,337.3 185.5,332.6 187.1,329.0C188.7,325.4 190.5,320.6 191.6,318.5C192.7,316.4 192.5,319.2 193.5,316.1C194.5,313.0 196.7,304.7 197.6,300.0C198.5,295.3 198.3,291.2 198.9,288.0C199.5,284.8 200.5,282.4 201.2,281.0C201.9,279.6 202.1,279.3 203.2,279.4C204.2,279.5 206.0,281.7 207.5,281.4C209.0,281.1 210.6,279.0 212.0,277.5C213.4,276.0 215.2,273.2 215.9,272.3" stroke="#9000d8" stroke-width="1.5" fill="none" />
<path d="M116.3,289.6C117.0,289.6 119.1,288.9 120.5,289.6C121.9,290.3 123.4,291.2 124.8,293.8C126.2,296.4 127.8,301.4 129.0,305.5C130.2,309.6 131.1,315.1 132.2,318.3C133.3,321.5 134.3,323.8 135.4,324.7C136.5,325.6 137.3,324.9 138.6,323.6C139.8,322.4 141.7,319.1 142.9,317.2C144.1,315.2 144.9,312.1 146.0,311.9C147.1,311.7 147.9,314.1 149.2,316.2C150.4,318.3 152.1,321.5 153.5,324.7C154.9,327.9 156.3,332.5 157.7,335.3C159.1,338.1 160.5,339.8 162.0,341.7C163.5,343.6 165.1,345.7 166.6,346.8C168.1,347.9 169.5,347.3 171.1,348.4C172.7,349.5 174.7,351.7 176.0,353.2C177.3,354.7 178.1,357.3 179.1,357.3C180.1,357.3 180.9,354.7 182.2,353.2C183.5,351.7 185.5,349.5 187.1,348.4C188.7,347.3 190.1,347.9 191.6,346.8C193.1,345.7 194.7,343.6 196.2,341.7C197.7,339.8 199.1,338.1 200.5,335.3C201.9,332.5 203.3,327.9 204.7,324.7C206.1,321.5 207.8,318.3 209.0,316.2C210.2,314.1 211.1,311.7 212.2,311.9C213.2,312.1 214.1,315.2 215.3,317.2C216.5,319.1 218.3,322.4 219.6,323.6C220.8,324.9 221.7,325.6 222.8,324.7C223.9,323.8 224.9,321.5 226.0,318.3C227.1,315.1 228.0,309.6 229.2,305.5C230.4,301.4 232.0,296.4 233.4,293.8C234.8,291.2 236.3,290.3 237.7,289.6C239.1,288.9 241.2,289.6 241.9,289.6" stroke="#9000d8" stroke-width="1.5" fill="none" />
<path d="M143.9,362.0C144.2,360.4 144.9,353.2 145.6,352.3C146.3,351.4 147.5,355.0 148.2,356.6C148.8,358.2 149.3,361.1 149.5,362.0" stroke="#9000d8" stroke-width="1.5" fill="none" />
<path d="M202.6,362.0C203.1,359.0 204.7,349.3 205.8,343.8C206.9,338.3 207.9,334.3 209.0,329.0C210.1,323.7 211.0,317.2 212.2,311.9C213.4,306.6 215.7,299.5 216.4,297.0" stroke="#9000d8" stroke-width="1.5" fill="none" />
<path d="M208.7,362.0C208.9,361.1 209.3,358.2 210.0,356.6C210.7,355.0 211.9,351.4 212.6,352.3C213.3,353.2 214.0,360.4 214.3,362.0" stroke="#9000d8" stroke-width="1.5" fill="none" />
<path d="M145.3,220.8C145.6,220.0 146.4,218.1 147.0,216.0C147.6,213.9 148.1,210.7 148.6,208.0C149.1,205.3 149.5,202.5 150.2,200.0C150.9,197.5 151.8,194.5 152.7,193.0C153.6,191.5 154.3,190.9 155.4,191.0C156.5,191.1 158.1,192.5 159.3,193.6C160.5,194.7 161.4,196.6 162.5,197.5C163.6,198.4 164.7,199.6 165.8,198.8C166.9,198.1 167.9,195.2 169.0,193.0C170.1,190.8 171.1,188.3 172.3,185.8C173.5,183.3 174.9,180.4 176.0,178.0C177.1,175.6 178.1,173.5 179.1,171.5C180.1,169.5 181.3,167.2 182.0,166.0C182.7,164.8 182.8,164.3 183.0,164.0" stroke="#9000d8" stroke-width="1.5" fill="none" />
<path d="M175.2,164.0C175.4,164.3 175.5,164.8 176.2,166.0C176.8,167.2 178.1,169.5 179.1,171.5C180.1,173.5 181.1,175.6 182.2,178.0C183.3,180.4 184.7,183.3 185.9,185.8C187.1,188.3 188.1,190.8 189.2,193.0C190.3,195.2 191.3,198.1 192.4,198.8C193.5,199.6 194.6,198.4 195.7,197.5C196.8,196.6 197.7,194.7 198.9,193.6C200.1,192.5 201.7,191.1 202.8,191.0C203.9,190.9 204.6,191.5 205.5,193.0C206.4,194.5 207.3,197.5 208.0,200.0C208.7,202.5 209.1,205.3 209.6,208.0C210.1,210.7 210.6,213.9 211.2,216.0C211.8,218.1 212.6,220.0 212.9,220.8" stroke="#9000d8" stroke-width="1.5" fill="none" />
<path d="M151.2,164.0C151.7,165.2 153.1,171.5 154.0,171.5C154.9,171.5 156.4,165.2 156.9,164.0" stroke="#9000d8" stroke-width="1.5" fill="none" />
<path d="M200.8,164.0C201.2,165.2 202.5,171.5 203.4,171.5C204.3,171.5 205.7,165.2 206.2,164.0" stroke="#9000d8" stroke-width="1.5" fill="none" />
<path d="M145.3,221.0C145.9,221.1 148.0,221.2 149.0,221.5C150.0,221.8 150.8,221.2 151.5,223.0C152.2,224.8 152.6,228.7 153.0,232.0C153.4,235.3 153.5,239.7 154.0,243.0C154.5,246.3 155.3,249.4 156.0,252.0C156.7,254.6 157.1,256.9 158.0,258.5C158.9,260.1 160.3,261.1 161.7,261.6C163.1,262.1 165.2,261.2 166.2,261.6C167.2,262.0 167.1,262.6 167.6,264.0C168.1,265.4 168.5,267.7 169.0,270.0C169.5,272.3 169.9,274.3 170.4,277.6C170.9,280.9 171.5,286.1 172.0,290.0C172.5,293.9 172.9,295.6 173.6,300.9C174.2,306.2 175.2,316.2 175.9,321.9C176.6,327.6 177.0,330.9 177.5,335.0C178.0,339.1 178.8,344.8 179.1,346.8" stroke="#9000d8" stroke-width="1.5" fill="none" />
<path d="M179.1,346.8C179.4,344.8 180.2,339.1 180.7,335.0C181.2,330.9 181.6,327.6 182.3,321.9C182.9,316.2 183.9,306.2 184.6,300.9C185.2,295.6 185.7,293.9 186.2,290.0C186.7,286.1 187.3,280.9 187.8,277.6C188.3,274.3 188.7,272.3 189.2,270.0C189.7,267.7 190.1,265.4 190.6,264.0C191.1,262.6 191.0,262.0 192.0,261.6C193.0,261.2 195.1,262.1 196.5,261.6C197.9,261.1 199.2,260.1 200.2,258.5C201.1,256.9 201.5,254.6 202.2,252.0C202.9,249.4 203.7,246.3 204.2,243.0C204.7,239.7 204.8,235.3 205.2,232.0C205.6,228.7 206.0,224.8 206.7,223.0C207.4,221.2 208.2,221.8 209.2,221.5C210.2,221.2 212.3,221.1 212.9,221.0" stroke="#9000d8" stroke-width="1.5" fill="none" />
<path d="M179.1,346.8L179.1,363.0" stroke="#9000d8" stroke-width="1.5" fill="none" />
</g>
<rect x="52.9" y="165.5" width="158.7" height="195.8" fill="none" stroke="#000" stroke-width="1.1"/>
<clipPath id="clipe"><rect x="221.4" y="165.5" width="158.79999999999998" height="195.8"/></clipPath>
<line x1="242.5" y1="165.5" x2="242.5" y2="361.3" stroke="#444" stroke-width="0.9"/>
<line x1="254.6" y1="165.5" x2="254.6" y2="361.3" stroke="#444" stroke-width="0.9"/>
<line x1="267.1" y1="165.5" x2="267.1" y2="361.3" stroke="#444" stroke-width="0.9"/>
<line x1="288.1" y1="165.5" x2="288.1" y2="361.3" stroke="#444" stroke-width="0.9"/>
<line x1="313.8" y1="165.5" x2="313.8" y2="361.3" stroke="#444" stroke-width="0.9"/>
<line x1="335.0" y1="165.5" x2="335.0" y2="361.3" stroke="#444" stroke-width="0.9"/>
<line x1="347.6" y1="165.5" x2="347.6" y2="361.3" stroke="#444" stroke-width="0.9"/>
<line x1="359.6" y1="165.5" x2="359.6" y2="361.3" stroke="#444" stroke-width="0.9"/>
<line x1="221.4" y1="263.4" x2="380.2" y2="263.4" stroke="#000" stroke-width="0.9"/>
<g clip-path="url(#clipe)">
<path d="M232.5,164.0C232.8,166.0 233.6,170.8 234.3,176.0C235.0,181.2 236.1,190.7 236.9,195.5C237.7,200.3 238.1,202.4 239.0,205.0C239.9,207.6 241.8,210.2 242.4,211.2" stroke="#1010ff" stroke-width="1.5" fill="none" />
<path d="M221.4,185.6C221.9,185.7 223.6,185.8 224.7,186.4C225.8,187.1 226.9,188.4 227.8,189.5C228.7,190.6 229.2,191.6 230.1,193.0C231.0,194.4 231.9,196.0 233.0,198.0C234.1,200.0 235.8,203.2 236.9,205.0C238.0,206.8 238.7,207.5 239.6,208.5C240.5,209.5 241.5,210.6 242.4,211.2C243.3,211.8 244.2,211.9 245.0,212.0C245.8,212.1 246.3,212.4 247.4,211.6C248.5,210.8 250.5,208.7 251.7,207.3C252.9,205.9 253.8,205.6 254.6,203.0C255.4,200.4 256.1,195.2 256.7,191.6C257.3,188.0 257.7,184.7 258.1,181.6C258.5,178.5 258.6,175.6 258.9,173.0C259.1,170.4 259.4,167.6 259.6,165.9C259.8,164.2 259.9,163.5 260.0,163.0" stroke="#1010ff" stroke-width="1.5" fill="none" />
<path d="M221.4,185.2C221.9,185.1 223.6,185.1 224.7,184.8C225.8,184.6 227.0,183.9 227.8,183.7C228.6,183.4 228.9,183.2 229.4,183.3C229.9,183.4 230.1,184.0 230.9,184.4C231.7,184.8 233.1,185.5 234.0,185.6C234.9,185.7 235.5,185.7 236.4,185.2C237.3,184.7 238.5,183.2 239.5,182.5C240.5,181.8 240.8,181.5 242.6,181.3C244.4,181.1 247.8,181.3 250.3,181.3C252.8,181.3 255.5,182.0 257.4,181.3C259.3,180.6 260.5,179.2 261.7,177.3C262.9,175.4 263.7,171.9 264.6,170.1C265.6,168.3 265.5,167.4 267.4,166.6C269.3,165.8 273.4,164.9 276.0,165.1C278.6,165.3 281.1,167.4 283.1,168.0C285.1,168.6 287.3,168.7 288.1,168.8" stroke="#1010ff" stroke-width="1.5" fill="none" />
<path d="M254.6,203.0C255.1,200.8 256.4,192.8 257.4,190.1C258.3,187.4 259.1,187.2 260.3,186.6C261.5,186.0 262.7,186.7 264.6,186.6C266.5,186.5 269.3,186.3 271.7,185.9C274.1,185.5 276.2,184.5 278.9,184.4C281.6,184.3 286.6,185.0 288.1,185.1" stroke="#1010ff" stroke-width="1.5" fill="none" />
<path d="M262.0,216.0C262.2,215.7 262.3,215.2 263.1,214.4C263.9,213.6 265.3,211.9 266.7,210.9C268.1,209.9 269.9,208.8 271.7,208.7C273.5,208.6 276.0,208.5 277.4,210.1C278.8,211.7 279.8,216.7 280.3,218.0" stroke="#1010ff" stroke-width="1.5" fill="none" />
<path d="M233.2,164.0C233.7,164.4 234.4,166.0 236.0,166.6C237.6,167.2 241.0,166.6 242.6,167.7C244.2,168.8 244.7,171.3 245.7,173.1C246.7,174.9 247.8,175.5 248.8,178.6C249.8,181.7 250.7,187.8 251.7,191.6C252.7,195.4 253.7,198.8 254.6,201.6C255.5,204.4 256.3,206.9 257.4,208.7C258.5,210.5 259.8,211.6 261.0,212.3C262.2,213.0 263.7,213.0 264.6,213.0C265.6,213.0 265.8,213.2 266.7,212.3C267.6,211.4 269.0,209.6 270.3,207.3C271.6,205.0 273.2,201.6 274.6,198.7C276.0,195.8 277.5,193.2 278.9,190.1C280.3,187.0 281.9,183.2 283.1,180.1C284.3,177.0 285.1,173.5 285.9,171.6C286.7,169.7 287.7,169.2 288.1,168.7" stroke="#ff1010" stroke-width="1.5" fill="none" />
<path d="M248.9,164.0C249.1,166.2 249.8,173.2 250.3,177.3C250.8,181.4 251.1,184.9 251.7,188.7C252.3,192.5 253.2,197.0 253.9,200.1C254.6,203.2 255.2,205.4 256.0,207.3C256.8,209.2 258.1,210.3 258.9,211.6C259.7,212.9 260.6,214.4 261.0,215.0" stroke="#ff1010" stroke-width="1.5" fill="none" />
<path d="M221.4,185.2C222.2,185.0 224.8,184.2 226.2,184.0C227.6,183.8 228.8,183.7 230.1,184.0C231.4,184.3 232.4,185.2 234.0,185.6C235.6,186.0 237.9,186.1 239.5,186.4C241.1,186.7 242.1,187.1 243.4,187.2C244.7,187.3 246.2,186.4 247.3,186.8C248.5,187.2 249.5,187.9 250.3,189.4C251.2,190.9 251.7,193.9 252.4,195.9C253.1,197.9 254.2,200.7 254.6,201.6" stroke="#ff1010" stroke-width="1.5" fill="none" />
<path d="M256.5,182.0C256.9,181.8 257.5,181.1 258.9,180.9C260.2,180.7 262.9,180.8 264.6,180.9C266.3,181.0 267.6,181.0 268.9,181.6C270.2,182.2 271.4,183.8 272.4,184.4C273.4,185.1 274.6,185.3 275.0,185.5" stroke="#ff1010" stroke-width="1.5" fill="none" />
<path d="M277.4,164.0C277.0,166.9 276.0,176.5 275.3,181.6C274.6,186.7 273.9,190.3 273.1,194.4C272.3,198.5 271.2,202.8 270.3,205.9C269.4,209.0 268.3,211.0 267.4,213.0C266.4,215.0 265.1,217.2 264.6,218.0" stroke="#ff1010" stroke-width="1.5" fill="none" />
<path d="M221.4,239.2C222.0,236.9 223.9,229.8 225.2,225.6C226.5,221.4 227.8,216.6 229.1,213.9C230.4,211.2 231.8,210.4 233.0,209.5C234.2,208.6 234.6,208.2 236.0,208.7C237.4,209.2 240.3,211.1 241.7,212.3C243.1,213.5 243.4,214.5 244.6,215.9C245.8,217.3 246.9,218.3 248.6,221.0C250.3,223.7 252.9,230.9 254.6,232.1C256.3,233.3 257.4,229.6 259.0,228.2C260.6,226.8 261.6,224.5 264.2,223.6C266.8,222.7 271.9,222.2 274.5,223.0C277.1,223.8 278.2,226.2 279.7,228.2C281.2,230.1 282.2,232.8 283.6,234.7C285.0,236.6 287.4,238.7 288.1,239.5" stroke="#ff1010" stroke-width="1.5" fill="none" />
<path d="M221.4,239.9C222.2,238.2 224.6,232.3 226.5,229.5C228.4,226.7 230.4,224.1 233.0,223.0C235.6,221.9 239.5,222.3 242.1,223.0C244.7,223.7 246.5,225.3 248.6,226.9C250.7,228.5 252.9,233.3 254.6,232.7C256.3,232.0 257.6,226.1 259.0,223.0C260.4,219.9 261.6,216.1 262.9,213.9C264.2,211.7 265.6,210.9 266.8,210.0C268.0,209.1 268.7,208.8 270.0,208.5C271.3,208.2 273.3,208.2 274.5,208.5C275.7,208.8 276.0,208.7 277.1,210.0C278.2,211.3 279.7,213.2 281.0,216.5C282.3,219.8 283.7,225.7 284.9,229.5C286.1,233.3 287.6,237.6 288.1,239.2" stroke="#1010ff" stroke-width="1.5" fill="none" />
<path d="M221.4,293.8C221.7,291.6 222.6,284.4 223.4,280.3C224.2,276.2 225.1,271.9 226.1,269.5C227.1,267.1 228.4,266.0 229.5,266.1C230.6,266.2 231.7,268.2 232.8,270.1C233.9,272.0 234.9,276.2 236.2,277.6C237.4,279.0 238.8,278.3 240.3,278.2C241.8,278.1 243.7,277.9 245.0,276.9C246.3,275.9 247.3,274.3 248.4,272.2C249.5,270.1 250.8,267.0 251.8,264.1C252.8,261.2 253.7,256.0 254.5,255.0C255.3,254.0 255.8,254.9 256.8,258.0C257.9,261.1 259.6,269.0 260.8,273.5C262.0,278.0 262.8,281.9 263.8,285.0C264.8,288.1 266.0,290.2 266.6,292.4C267.2,294.6 266.9,295.9 267.3,298.0C267.7,300.1 268.1,302.3 268.8,304.7C269.5,307.1 270.7,310.1 271.7,312.6C272.7,315.1 274.0,317.2 274.7,319.6C275.4,322.0 275.4,324.7 276.0,327.1C276.6,329.5 277.4,331.1 278.3,334.0C279.2,336.9 280.8,341.2 281.7,344.3C282.6,347.4 283.4,349.4 284.0,352.3C284.6,355.2 284.9,360.4 285.1,362.0" stroke="#1010ff" stroke-width="1.5" fill="none" />
<path d="M278.0,256.5C277.6,257.0 276.3,257.6 275.5,259.5C274.7,261.4 273.9,264.3 273.0,268.0C272.1,271.7 271.1,278.3 270.3,281.6C269.5,284.9 268.6,286.2 268.0,288.0C267.4,289.8 267.0,290.7 266.6,292.4C266.2,294.1 266.7,295.4 265.9,298.0C265.1,300.6 263.2,305.1 261.9,307.7C260.6,310.3 259.0,311.8 257.9,313.6C256.8,315.4 255.8,317.3 255.0,318.6C254.2,319.9 254.0,320.6 253.1,321.5C252.2,322.4 250.8,324.0 249.7,324.3C248.6,324.6 247.5,323.6 246.3,323.1C245.1,322.6 243.5,322.0 242.3,321.4C241.1,320.8 240.3,320.4 238.9,319.7C237.5,319.0 235.4,318.1 234.0,317.3C232.6,316.5 231.4,315.1 230.3,314.9C229.2,314.7 228.6,314.2 227.5,315.9C226.4,317.6 224.9,322.1 224.0,324.9C223.1,327.7 222.7,330.9 222.3,332.9C221.9,334.9 221.6,336.3 221.4,337.0" stroke="#1010ff" stroke-width="1.5" fill="none" />
<path d="M221.4,276.9C221.8,278.2 222.8,283.3 223.7,285.0C224.5,286.7 225.6,286.3 226.5,286.9C227.4,287.5 228.3,288.5 229.4,288.7C230.5,288.9 231.9,288.2 233.1,288.3C234.3,288.4 235.6,288.7 236.8,289.2C238.1,289.7 239.5,290.6 240.6,291.1C241.7,291.7 242.5,291.8 243.4,292.5C244.3,293.2 245.3,294.1 246.2,295.3C247.1,296.6 248.1,298.0 249.0,300.0C249.9,302.0 251.0,305.0 251.8,307.5C252.7,310.0 253.4,312.8 254.1,314.9C254.8,316.9 255.1,318.5 255.7,319.8C256.3,321.1 256.8,321.5 257.7,322.6C258.6,323.7 259.8,325.5 261.1,326.6C262.4,327.7 264.4,329.1 265.7,329.4C267.0,329.7 268.0,329.1 269.1,328.3C270.2,327.6 271.5,326.2 272.6,324.9C273.8,323.6 274.9,321.3 276.0,320.3C277.1,319.3 278.4,318.7 279.4,319.1C280.3,319.5 280.9,320.9 281.7,322.6C282.5,324.3 283.2,327.1 284.0,329.4C284.8,331.7 285.6,334.5 286.3,336.3C287.0,338.1 287.8,339.4 288.1,340.0" stroke="#1010ff" stroke-width="1.5" fill="none" />
<path d="M221.6,341.0C221.7,339.8 221.9,336.7 222.3,334.0C222.7,331.3 223.5,327.7 224.2,325.0C224.9,322.3 225.6,320.8 226.5,318.0C227.4,315.2 228.5,311.6 229.4,308.4C230.3,305.2 231.3,301.4 232.2,299.0C233.1,296.6 234.2,293.9 235.0,293.9C235.8,293.9 236.7,296.6 237.3,299.0C237.9,301.4 238.3,305.6 238.7,308.4C239.1,311.2 239.4,313.8 239.6,315.9C239.8,318.0 239.8,318.8 240.1,321.0C240.3,323.2 240.7,326.3 241.1,329.4C241.5,332.5 242.2,336.8 242.3,339.7C242.4,342.6 242.0,342.9 241.7,346.6C241.4,350.3 240.8,359.4 240.6,362.0" stroke="#1010ff" stroke-width="1.5" fill="none" />
<path d="M278.0,256.5C278.4,257.0 279.7,257.6 280.5,259.5C281.3,261.4 282.3,263.8 283.0,268.0C283.7,272.2 284.5,280.5 284.6,285.0C284.7,289.5 284.0,291.6 283.6,294.9C283.2,298.2 282.6,301.4 282.1,304.7C281.6,308.0 281.0,311.6 280.6,314.6C280.2,317.7 280.1,320.4 279.6,323.0C279.1,325.6 278.2,327.7 277.5,330.0C276.8,332.3 276.2,333.6 275.1,337.0C274.0,340.4 272.0,346.3 271.0,350.5C270.0,354.7 269.3,360.1 269.0,362.0" stroke="#1010ff" stroke-width="1.5" fill="none" />
<path d="M284.6,286.0C284.8,286.8 285.0,289.5 285.6,290.9C286.2,292.3 287.7,293.9 288.1,294.5" stroke="#1010ff" stroke-width="1.5" fill="none" />
<path d="M242.3,339.7C242.8,339.3 244.1,338.5 245.1,337.4C246.1,336.3 247.4,334.2 248.6,332.9C249.8,331.6 251.0,330.2 252.0,329.5C253.0,328.8 253.6,328.3 254.5,328.5C255.4,328.7 256.8,329.3 257.7,330.6C258.6,331.9 259.1,334.4 260.0,336.3C260.9,338.2 262.2,340.7 263.4,342.0C264.5,343.3 265.8,343.7 266.9,344.3C268.0,344.9 269.2,344.8 270.3,345.4C271.4,346.0 272.6,346.8 273.7,347.7C274.8,348.6 276.0,350.3 277.1,351.1C278.2,351.9 279.5,352.3 280.6,352.3C281.8,352.3 283.1,352.1 284.0,351.1C284.9,350.2 285.6,348.0 286.3,346.6C287.0,345.2 287.8,343.6 288.1,343.0" stroke="#1010ff" stroke-width="1.5" fill="none" />
<path d="M221.7,344.3C221.9,345.2 222.4,348.1 222.9,350.0C223.4,351.9 224.1,353.7 224.6,355.7C225.1,357.7 225.5,360.9 225.7,362.0" stroke="#1010ff" stroke-width="1.5" fill="none" />
<path d="M240.6,310.0C240.9,311.4 241.9,315.9 242.6,318.1C243.3,320.4 243.7,321.5 244.6,323.5C245.5,325.5 247.0,328.1 248.0,330.3C249.0,332.6 249.8,334.5 250.7,337.0C251.6,339.5 252.6,342.4 253.4,345.1C254.2,347.8 254.8,350.4 255.5,353.2C256.2,356.0 257.2,360.5 257.5,362.0" stroke="#1010ff" stroke-width="1.5" fill="none" />
<path d="M258.0,305.0C257.7,305.8 256.8,307.8 256.1,310.0C255.5,312.2 255.0,315.9 254.1,318.1C253.2,320.4 251.7,321.7 250.7,323.5C249.7,325.3 248.8,327.0 248.0,328.9C247.2,330.8 246.8,332.8 246.0,335.0C245.2,337.2 243.8,341.2 243.3,342.4" stroke="#1010ff" stroke-width="1.5" fill="none" />
<path d="M287.5,344.0C287.1,345.4 285.7,349.3 285.1,352.3C284.5,355.3 284.2,360.4 284.0,362.0" stroke="#1010ff" stroke-width="1.5" fill="none" />
<path d="M221.4,290.0C221.7,288.3 222.6,283.7 223.4,280.0C224.2,276.3 225.2,271.4 226.0,268.0C226.8,264.6 227.7,261.4 228.5,259.5C229.3,257.6 230.2,256.5 231.0,256.5C231.8,256.5 232.7,257.6 233.5,259.5C234.3,261.4 235.2,264.9 236.0,268.0C236.8,271.1 237.8,275.3 238.5,278.0C239.2,280.7 239.7,282.2 240.3,284.3C240.9,286.4 241.9,288.4 242.3,290.4C242.7,292.3 242.5,293.8 242.8,296.0C243.1,298.2 243.6,301.6 244.3,303.7C245.0,305.8 246.0,306.8 247.1,308.4C248.2,310.0 249.8,311.2 250.9,313.1C252.0,315.0 253.0,317.3 253.7,319.6C254.4,321.9 254.6,324.6 255.2,327.0C255.8,329.4 256.2,331.7 257.0,334.3C257.8,336.9 259.3,339.8 260.2,342.4C261.1,345.0 261.8,346.7 262.5,350.0C263.2,353.3 264.2,360.0 264.5,362.0" stroke="#ff1010" stroke-width="1.5" fill="none" />
<path d="M254.5,255.0C254.2,255.6 253.8,255.4 252.5,258.5C251.2,261.6 248.4,269.4 247.0,273.5C245.6,277.6 245.1,280.2 244.3,283.0C243.5,285.8 242.7,288.2 242.3,290.4C241.9,292.6 242.4,292.9 241.8,296.0C241.2,299.1 239.7,305.8 238.7,309.3C237.7,312.8 236.7,315.0 235.9,316.8C235.1,318.6 234.4,319.0 233.7,320.3C232.9,321.6 232.2,323.2 231.4,324.9C230.6,326.6 230.1,329.1 229.1,330.6C228.1,332.1 226.8,333.2 225.7,334.0C224.6,334.8 223.0,334.9 222.3,335.1C221.6,335.4 221.6,335.4 221.4,335.5" stroke="#ff1010" stroke-width="1.5" fill="none" />
<path d="M221.4,277.0C221.9,278.3 223.6,282.1 224.2,285.0C224.8,287.9 224.7,291.3 225.1,294.4C225.5,297.5 226.0,300.6 226.5,303.7C227.0,306.8 227.7,310.4 228.0,313.1C228.3,315.8 228.3,317.3 228.5,320.0C228.7,322.7 228.6,325.9 229.1,329.4C229.6,332.9 230.7,337.5 231.4,340.9C232.1,344.3 232.5,346.5 233.1,350.0C233.7,353.5 234.6,360.0 234.9,362.0" stroke="#ff1010" stroke-width="1.5" fill="none" />
<path d="M228.0,318.5C228.2,318.7 228.2,319.2 229.1,319.7C230.0,320.2 232.2,320.5 233.7,321.4C235.2,322.3 236.9,323.6 238.3,324.9C239.7,326.2 241.0,328.8 242.3,329.4C243.6,330.0 245.1,328.9 246.3,328.3C247.5,327.7 248.7,326.8 249.7,326.0C250.7,325.2 251.6,324.3 252.5,323.5C253.4,322.7 254.1,321.5 255.0,321.0C255.9,320.5 257.0,320.4 258.0,320.5C259.0,320.6 260.0,321.5 261.0,321.5C262.0,321.5 262.7,320.8 263.8,320.5C264.9,320.2 266.5,320.3 267.8,320.0C269.1,319.7 270.4,319.2 271.7,318.6C273.0,318.0 274.5,317.1 275.7,316.6C276.9,316.1 277.7,315.6 278.7,315.6C279.7,315.6 280.8,315.5 281.8,316.8C282.8,318.1 283.6,320.6 284.5,323.5C285.4,326.4 286.6,331.9 287.2,334.3C287.8,336.7 288.0,337.4 288.1,338.0" stroke="#ff1010" stroke-width="1.5" fill="none" />
<path d="M221.4,348.5C221.6,348.6 221.4,348.3 222.3,348.9C223.2,349.5 225.4,351.9 226.9,352.3C228.4,352.7 229.9,351.9 231.4,351.1C232.9,350.3 234.5,348.8 236.0,347.7C237.5,346.6 239.1,345.2 240.6,344.3C242.1,343.4 243.8,342.9 245.1,342.0C246.4,341.1 247.4,339.9 248.6,338.6C249.8,337.3 251.1,335.3 252.0,334.0C252.9,332.7 253.6,331.8 254.3,330.6C255.0,329.4 255.5,328.3 256.0,327.0C256.5,325.7 257.2,323.7 257.5,323.0" stroke="#ff1010" stroke-width="1.5" fill="none" />
<path d="M288.1,277.6C287.6,278.3 286.2,280.2 285.1,281.6C284.0,283.0 282.5,284.9 281.6,286.0C280.7,287.1 280.4,287.5 279.6,288.0C278.8,288.5 277.9,288.8 276.7,288.9C275.5,289.0 273.8,288.3 272.7,288.5C271.6,288.7 270.8,289.2 269.8,289.9C268.8,290.5 267.6,291.7 266.6,292.4C265.6,293.1 264.8,292.8 263.8,293.9C262.9,295.0 261.9,296.5 260.9,298.8C259.9,301.1 258.9,304.7 257.9,307.7C256.9,310.7 255.7,314.5 255.0,316.6C254.3,318.7 254.2,319.9 254.0,320.5" stroke="#ff1010" stroke-width="1.5" fill="none" />
<path d="M244.0,362.0C244.3,360.0 245.3,353.3 246.0,350.0C246.7,346.7 247.1,345.0 248.0,342.4C248.9,339.8 250.4,336.2 251.4,334.3C252.4,332.4 253.2,331.0 254.1,331.0C255.0,331.0 256.4,333.8 256.8,334.3" stroke="#ff1010" stroke-width="1.5" fill="none" />
<path d="M269.3,318.0C269.4,317.4 269.5,316.8 269.8,314.6C270.1,312.4 270.7,307.5 271.2,304.7C271.7,301.9 272.2,299.7 272.7,297.8C273.2,295.9 273.7,293.4 274.2,293.4C274.7,293.4 275.1,295.9 275.7,297.8C276.3,299.7 277.0,302.2 277.7,304.7C278.4,307.2 279.0,310.3 279.6,312.6C280.2,314.9 280.9,316.2 281.6,318.6C282.3,321.0 283.2,324.2 284.0,327.1C284.8,330.1 286.1,333.3 286.3,336.3C286.6,339.3 285.9,342.2 285.5,345.0C285.1,347.8 284.4,350.2 284.0,353.0C283.6,355.8 283.1,360.5 282.9,362.0" stroke="#ff1010" stroke-width="1.5" fill="none" />
<path d="M254.5,255.0C254.8,255.5 255.3,255.4 256.1,258.0C256.9,260.6 258.3,267.7 259.5,270.8C260.7,273.9 262.1,275.7 263.5,276.9C264.9,278.1 266.2,278.2 267.6,278.2C269.0,278.2 270.4,278.1 271.6,276.9C272.8,275.7 273.9,272.6 275.0,270.8C276.1,269.0 277.4,266.6 278.4,266.1C279.4,265.7 280.3,266.4 281.1,268.1C281.9,269.8 282.4,273.5 283.1,276.2C283.8,278.9 284.3,282.0 285.1,284.3C285.9,286.6 287.6,289.1 288.1,290.0" stroke="#ff1010" stroke-width="1.5" fill="none" />
<path d="M288.1,168.2C288.4,168.3 289.2,167.9 289.8,168.8C290.4,169.7 291.2,171.6 292.0,173.4C292.8,175.2 293.6,177.3 294.5,179.9C295.4,182.5 296.5,185.8 297.5,189.0C298.5,192.2 299.5,196.2 300.3,199.4C301.1,202.6 301.7,204.4 302.5,208.0C303.3,211.6 304.1,216.9 305.0,220.8C305.9,224.7 306.9,228.2 308.0,231.6C309.1,235.0 310.3,238.3 311.3,241.1C312.3,243.9 313.4,247.3 313.8,248.5" stroke="#000" stroke-width="1.5" fill="none" />
<path d="M288.5,165.5C288.7,166.4 289.4,168.6 289.8,170.8C290.2,173.0 290.6,175.6 291.1,178.6C291.7,181.6 292.5,185.5 293.1,189.0C293.8,192.5 294.3,195.9 295.0,199.4C295.7,202.9 296.5,205.5 297.5,210.0C298.5,214.5 299.9,221.2 300.9,226.2C301.9,231.1 302.8,235.6 303.6,239.7C304.4,243.8 305.1,247.8 305.6,250.5C306.1,253.2 306.2,255.2 306.6,256.2C307.0,257.2 307.6,256.8 308.2,256.5C308.8,256.2 309.1,255.7 310.0,254.4C310.9,253.1 313.2,249.5 313.8,248.5" stroke="#000" stroke-width="1.5" fill="none" />
<path d="M288.1,185.1C288.4,185.3 289.2,185.5 289.8,186.4C290.4,187.3 290.9,188.4 291.5,190.3C292.1,192.2 292.6,194.8 293.2,198.1C293.8,201.4 294.1,205.8 295.0,210.0C295.9,214.2 297.3,219.0 298.4,223.5C299.5,228.0 300.6,232.5 301.6,237.0C302.6,241.5 303.4,247.3 304.3,250.5C305.2,253.7 306.1,255.3 307.0,256.0C307.9,256.7 308.6,255.8 309.7,254.6C310.8,253.3 313.1,249.5 313.8,248.5" stroke="#000" stroke-width="1.5" fill="none" />
<path d="M288.1,239.0C288.3,239.2 288.8,239.6 289.4,240.4C289.9,241.2 290.7,242.1 291.4,243.8C292.1,245.5 292.8,247.2 293.5,250.5C294.2,253.8 294.8,260.1 295.5,263.4C296.2,266.7 296.8,268.4 297.5,270.2C298.2,272.0 298.9,273.3 299.5,274.2C300.1,275.1 300.3,273.8 300.9,275.6C301.5,277.4 302.3,281.2 302.9,285.0C303.5,288.8 303.9,294.3 304.3,298.5C304.8,302.7 304.9,304.0 305.6,310.0C306.3,316.0 307.4,326.8 308.4,334.6C309.4,342.4 310.8,352.3 311.4,356.9C312.0,361.5 312.0,361.1 312.1,362.0" stroke="#000" stroke-width="1.5" fill="none" />
<path d="M288.1,278.3C288.3,278.2 288.6,277.6 289.4,277.6C290.2,277.6 291.8,278.8 292.8,278.3C293.8,277.9 294.7,276.0 295.5,274.9C296.3,273.8 296.9,272.2 297.5,271.5C298.1,270.8 298.3,270.5 298.9,270.8C299.5,271.1 300.2,273.4 300.9,273.5C301.6,273.6 302.1,272.2 302.9,271.5C303.7,270.8 304.7,270.1 305.6,269.5C306.5,268.9 307.4,268.2 308.3,268.1C309.2,268.0 310.1,268.5 311.0,268.8C311.9,269.1 313.3,270.0 313.8,270.2" stroke="#000" stroke-width="1.5" fill="none" />
<path d="M304.3,257.0C304.5,257.8 305.1,260.5 305.6,262.0C306.2,263.5 306.9,265.1 307.6,266.1C308.3,267.1 309.4,267.8 309.7,268.1" stroke="#000" stroke-width="1.5" fill="none" />
<path d="M288.1,294.5C288.3,294.3 288.7,294.0 289.4,293.1C290.1,292.2 291.3,290.2 292.1,289.1C292.9,288.0 293.4,286.7 294.1,286.4C294.8,286.1 295.6,286.5 296.2,287.1C296.8,287.7 296.9,288.1 297.5,289.8C298.1,291.5 299.0,294.7 299.5,297.2C300.0,299.7 299.7,301.2 300.3,305.0C300.9,308.8 302.0,315.1 303.0,320.0C304.0,324.9 304.9,328.5 306.2,334.6C307.5,340.8 309.7,352.3 310.7,356.9C311.7,361.5 311.9,361.1 312.1,362.0" stroke="#000" stroke-width="1.5" fill="none" />
<path d="M288.1,334.6C288.7,334.2 290.2,333.4 291.4,332.4C292.6,331.4 293.9,329.8 295.1,328.7C296.3,327.6 297.8,325.7 298.8,325.7C299.8,325.7 300.2,326.7 301.0,328.7C301.8,330.7 302.3,334.2 303.3,337.6C304.3,341.1 305.8,345.3 307.0,349.4C308.2,353.5 310.1,359.9 310.7,362.0" stroke="#000" stroke-width="1.5" fill="none" />
<path d="M288.1,336.9C288.7,337.3 290.3,337.8 291.4,339.1C292.4,340.5 293.4,342.5 294.4,345.0C295.4,347.5 296.3,351.1 297.3,353.9C298.3,356.7 299.8,360.6 300.3,362.0" stroke="#000" stroke-width="1.5" fill="none" />
<path d="M288.1,344.3C288.5,344.2 289.6,343.0 290.7,343.5C291.8,344.0 293.3,345.5 294.4,347.2C295.5,348.9 296.5,351.4 297.3,353.9C298.1,356.4 298.7,360.6 299.0,362.0" stroke="#000" stroke-width="1.5" fill="none" />
<path d="M288.1,348.0C288.7,347.9 290.1,346.5 291.4,347.2C292.7,347.9 294.7,349.9 295.9,352.4C297.1,354.9 298.3,360.4 298.8,362.0" stroke="#000" stroke-width="1.5" fill="none" />
<path d="M288.1,277.0C287.8,277.5 286.7,278.5 286.2,280.0C285.7,281.5 285.3,284.0 285.3,286.0C285.3,288.0 285.7,290.6 286.2,292.0C286.7,293.4 287.8,294.1 288.1,294.5" stroke="#1010ff" stroke-width="1.5" fill="none" />
<path d="M288.1,322.0C287.8,323.3 286.4,327.0 286.0,330.0C285.6,333.0 285.4,336.7 285.5,340.0C285.6,343.3 286.1,347.3 286.5,350.0C286.9,352.7 287.8,355.0 288.1,356.0" stroke="#ff1010" stroke-width="1.5" fill="none" />
<path d="M288.1,318.0C287.6,319.3 285.6,322.7 285.0,326.0C284.4,329.3 284.4,334.3 284.5,338.0C284.6,341.7 284.9,344.3 285.5,348.0C286.1,351.7 287.7,358.0 288.1,360.0" stroke="#1010ff" stroke-width="1.5" fill="none" />
<path d="M317.5,164.0C318.1,165.3 319.8,169.4 321.0,172.0C322.2,174.6 323.6,178.9 324.8,179.4C326.1,179.9 327.3,176.6 328.5,175.0C329.7,173.4 330.9,171.1 332.0,170.0C333.1,168.9 334.0,168.2 335.0,168.5C336.0,168.8 336.9,169.9 338.0,172.0C339.1,174.1 340.4,178.4 341.5,181.0C342.6,183.6 343.5,185.8 344.5,187.5C345.5,189.2 346.3,189.9 347.4,191.5C348.5,193.1 349.7,194.8 351.0,197.0C352.3,199.2 354.0,202.7 355.2,205.0C356.4,207.3 357.1,209.5 358.0,211.0C358.9,212.5 359.7,213.8 360.7,214.1C361.7,214.3 362.9,213.6 364.0,212.5C365.1,211.4 366.1,209.0 367.0,207.5C367.9,206.0 368.5,205.6 369.3,203.5C370.1,201.4 371.2,198.4 372.0,195.0C372.8,191.6 373.3,187.1 374.0,183.3C374.7,179.5 375.4,175.2 376.0,172.0C376.6,168.8 377.1,165.3 377.3,164.0" stroke="#1010ff" stroke-width="1.5" fill="none" />
<path d="M317.3,164.0C317.8,167.3 319.2,178.1 320.1,183.8C321.1,189.5 322.0,194.1 323.0,198.0C324.0,201.9 325.0,205.1 326.0,207.5C327.0,209.9 327.9,211.5 329.0,212.4C330.1,213.3 331.4,213.1 332.5,213.2C333.6,213.3 334.7,213.3 335.6,212.8C336.5,212.3 337.1,211.6 338.0,210.0C338.9,208.4 339.9,205.3 341.0,203.0C342.1,200.7 343.4,198.0 344.5,196.0C345.6,194.0 346.4,193.2 347.4,191.2C348.4,189.2 349.4,186.7 350.5,184.0C351.6,181.3 352.9,177.3 354.0,175.0C355.1,172.7 356.0,171.1 357.0,170.0C358.0,168.9 358.9,168.4 360.0,168.5C361.1,168.6 362.3,169.2 363.5,170.5C364.7,171.8 366.0,174.6 367.0,176.0C368.0,177.4 368.5,179.3 369.3,179.2C370.1,179.1 371.1,177.3 372.0,175.5C372.9,173.7 373.9,170.1 374.6,168.2C375.3,166.3 375.9,164.7 376.2,164.0" stroke="#ff1010" stroke-width="1.5" fill="none" />
<path d="M313.8,248.7C314.6,246.5 317.1,239.6 318.8,235.7C320.5,231.8 322.1,225.7 324.0,225.3C325.9,224.9 328.6,230.7 330.5,233.1C332.4,235.5 333.9,236.7 335.6,240.0C337.3,243.3 339.2,248.7 340.5,253.0C341.8,257.3 342.3,261.8 343.5,266.0C344.7,270.2 346.3,277.7 347.5,278.5C348.7,279.3 349.4,273.8 350.5,271.0C351.6,268.2 352.9,264.5 354.0,262.0C355.1,259.5 356.0,257.8 357.0,256.0C358.0,254.2 359.2,252.9 360.2,251.5C361.2,250.1 362.2,248.3 363.0,247.5C363.8,246.7 364.2,245.8 365.0,246.5C365.8,247.2 367.0,250.1 368.0,252.0C369.0,253.9 369.9,256.1 371.0,258.0C372.1,259.9 373.4,262.6 374.5,263.5C375.6,264.4 376.6,263.6 377.5,263.2C378.4,262.8 379.8,261.4 380.2,261.0" stroke="#1010ff" stroke-width="1.5" fill="none" />
<path d="M313.8,269.8C314.6,270.4 317.1,273.3 318.8,273.7C320.5,274.1 322.1,272.6 324.0,272.4C325.9,272.2 328.6,271.1 330.5,272.4C332.4,273.7 333.9,276.7 335.6,280.2C337.3,283.7 338.9,289.3 340.8,293.2C342.8,297.1 345.6,300.1 347.3,303.6C349.0,307.1 350.1,311.6 351.2,314.0C352.3,316.4 352.7,317.8 353.8,317.8C354.9,317.8 356.4,316.8 357.7,314.0C359.0,311.2 360.3,306.2 361.6,301.0C362.9,295.8 364.2,287.6 365.5,282.8C366.8,278.0 367.9,274.3 369.4,272.4C370.9,270.4 372.8,271.1 374.6,271.1C376.4,271.1 379.3,272.2 380.2,272.4" stroke="#1010ff" stroke-width="1.5" fill="none" />
<path d="M368.0,250.0C368.9,249.1 371.8,245.7 373.3,244.8C374.8,243.9 376.1,244.2 377.2,244.8C378.3,245.5 379.7,248.0 380.2,248.7" stroke="#1010ff" stroke-width="1.5" fill="none" />
<path d="M353.8,362.0C354.4,360.3 356.0,354.2 357.7,351.6C359.4,349.0 362.5,346.4 364.2,346.4C365.9,346.4 366.6,349.0 368.1,351.6C369.6,354.2 372.4,360.3 373.3,362.0" stroke="#1010ff" stroke-width="1.5" fill="none" />
<path d="M313.8,248.7C314.3,248.0 315.9,245.4 317.0,244.5C318.1,243.6 319.0,243.4 320.1,243.5C321.2,243.6 322.4,244.1 323.5,245.0C324.6,245.9 325.4,246.7 326.6,248.7C327.9,250.7 329.4,253.9 331.0,257.0C332.6,260.1 334.8,264.1 336.5,267.0C338.2,269.9 339.2,272.6 341.0,274.5C342.8,276.4 346.4,277.8 347.5,278.5" stroke="#ff1010" stroke-width="1.5" fill="none" />
<path d="M347.5,278.5C348.0,276.8 349.6,271.8 350.5,268.0C351.4,264.2 352.2,259.7 353.0,256.0C353.8,252.3 354.6,248.7 355.5,246.0C356.4,243.3 357.5,241.8 358.6,240.0C359.7,238.2 360.4,237.0 362.0,235.0C363.6,233.0 366.4,229.5 368.1,227.9C369.8,226.3 370.7,223.6 372.0,225.3C373.3,227.0 374.5,234.4 375.9,238.3C377.3,242.2 379.5,247.0 380.2,248.7" stroke="#ff1010" stroke-width="1.5" fill="none" />
<path d="M313.8,269.8C314.6,270.2 317.1,272.0 318.8,272.4C320.5,272.8 322.5,271.5 324.0,272.4C325.5,273.3 326.6,272.8 327.9,277.6C329.2,282.4 330.7,295.4 331.8,301.0C332.9,306.6 333.1,308.6 334.4,311.4C335.7,314.2 338.0,317.4 339.5,317.8C341.0,318.2 342.1,316.8 343.4,314.0C344.7,311.2 345.8,306.2 347.3,301.0C348.8,295.8 351.0,287.4 352.5,282.8C354.0,278.2 355.1,275.4 356.4,273.7C357.7,272.0 358.4,272.6 360.3,272.4C362.2,272.2 365.7,272.2 368.1,272.4C370.5,272.6 372.6,274.1 374.6,273.7C376.6,273.3 379.3,270.4 380.2,269.8" stroke="#ff1010" stroke-width="1.5" fill="none" />
<path d="M321.4,362.0C322.0,360.1 324.0,352.9 325.3,350.3C326.6,347.7 327.7,346.4 329.2,346.4C330.7,346.4 332.9,349.0 334.4,350.3C335.9,351.6 337.1,352.2 338.2,354.2C339.3,356.1 340.4,360.7 340.8,362.0" stroke="#ff1010" stroke-width="1.5" fill="none" />
</g>
<rect x="221.4" y="165.5" width="158.79999999999998" height="195.8" fill="none" stroke="#000" stroke-width="1.1"/>
<rect x="380.4" y="165.5" width="65.40000000000003" height="195.8" fill="none" stroke="#000" stroke-width="1.1"/>
<line x1="396.9" y1="165.5" x2="396.9" y2="170.0" stroke="#333" stroke-width="0.9"/><line x1="396.9" y1="361.3" x2="396.9" y2="356.8" stroke="#333" stroke-width="0.9"/>
<line x1="429.3" y1="165.5" x2="429.3" y2="170.0" stroke="#333" stroke-width="0.9"/><line x1="429.3" y1="361.3" x2="429.3" y2="356.8" stroke="#333" stroke-width="0.9"/>
<line x1="380.4" y1="263.4" x2="445.8" y2="263.4" stroke="#000" stroke-width="0.9"/>
<polygon points="413.7,165.5 413.7,165.6 417.6,168.2 420.2,173.4 421.5,176.0 418.9,177.3 416.3,181.1 415.0,183.7 413.7,186.3 411.1,186.9 410.6,188.9 413.7,190.2 413.7,192.8 405.9,195.4 400.7,196.7 398.1,198.0 403.3,199.3 408.5,201.4 413.7,205.8 413.7,208.4 409.8,209.7 405.9,213.6 404.6,217.4 407.2,218.7 411.1,220.0 413.7,221.3 412.4,224.0 409.8,226.5 412.4,229.1 413.7,230.4 408.5,231.7 404.6,234.3 402.8,236.9 405.9,239.5 411.1,240.3 413.7,240.8 413.7,243.4 411.1,246.0 410.6,248.6 412.4,251.2 411.1,253.7 413.7,256.3 411.6,259.4 415.0,261.5 418.9,263.3 421.5,265.9 417.6,268.5 413.7,269.8 412.4,272.4 405.9,272.4 404.6,273.7 408.5,276.3 412.4,277.6 413.7,278.5 416.3,280.1 422.8,281.4 417.6,282.7 413.7,284.0 411.1,286.6 409.8,289.2 412.4,290.5 411.1,293.1 416.3,293.1 413.7,295.5 412.4,298.3 413.7,299.5 411.1,300.9 408.5,306.1 408.5,311.3 412.4,312.6 413.7,313.8 416.3,315.1 420.2,317.7 416.3,319.0 413.7,320.2 408.5,321.6 403.3,324.2 399.4,326.8 405.9,328.1 412.4,328.9 413.7,329.5 416.3,330.7 418.9,332.0 416.3,333.3 420.2,334.1 422.8,335.9 431.9,337.7 442.2,338.5 431.9,339.8 422.8,341.1 416.3,342.4 413.7,343.0 408.5,344.4 403.3,346.3 405.9,347.6 412.4,348.9 416.3,350.2 413.7,351.3 408.5,352.7 404.6,356.6 407.2,359.2 412.4,360.5 413.7,361.3 413.7,361.3" fill="#ff88ff" stroke="none"/>
<polyline points="413.7,165.6 417.6,168.2 420.2,173.4 421.5,176.0 418.9,177.3 416.3,181.1 415.0,183.7 413.7,186.3 411.1,186.9 410.6,188.9 413.7,190.2 413.7,192.8 405.9,195.4 400.7,196.7 398.1,198.0 403.3,199.3 408.5,201.4 413.7,205.8 413.7,208.4 409.8,209.7 405.9,213.6 404.6,217.4 407.2,218.7 411.1,220.0 413.7,221.3 412.4,224.0 409.8,226.5 412.4,229.1 413.7,230.4 408.5,231.7 404.6,234.3 402.8,236.9 405.9,239.5 411.1,240.3 413.7,240.8 413.7,243.4 411.1,246.0 410.6,248.6 412.4,251.2 411.1,253.7 413.7,256.3 411.6,259.4 415.0,261.5 418.9,263.3 421.5,265.9 417.6,268.5 413.7,269.8 412.4,272.4 405.9,272.4 404.6,273.7 408.5,276.3 412.4,277.6 413.7,278.5 416.3,280.1 422.8,281.4 417.6,282.7 413.7,284.0 411.1,286.6 409.8,289.2 412.4,290.5 411.1,293.1 416.3,293.1 413.7,295.5 412.4,298.3 413.7,299.5 411.1,300.9 408.5,306.1 408.5,311.3 412.4,312.6 413.7,313.8 416.3,315.1 420.2,317.7 416.3,319.0 413.7,320.2 408.5,321.6 403.3,324.2 399.4,326.8 405.9,328.1 412.4,328.9 413.7,329.5 416.3,330.7 418.9,332.0 416.3,333.3 420.2,334.1 422.8,335.9 431.9,337.7 442.2,338.5 431.9,339.8 422.8,341.1 416.3,342.4 413.7,343.0 408.5,344.4 403.3,346.3 405.9,347.6 412.4,348.9 416.3,350.2 413.7,351.3 408.5,352.7 404.6,356.6 407.2,359.2 412.4,360.5 413.7,361.3" fill="none" stroke="#ff00ff" stroke-width="1.6" stroke-linejoin="round"/>
<line x1="413.7" y1="165.5" x2="413.7" y2="361.3" stroke="#000" stroke-width="1.0"/>
<text x="55.8" y="178.8" font-size="12.2" text-anchor="start" font-weight="bold" fill="#000"  stroke="#000" stroke-width="0.22">d</text>
<text x="223.2" y="178.9" font-size="12.2" text-anchor="start" font-weight="bold" fill="#000"  stroke="#000" stroke-width="0.22">e</text>
<text x="387.0" y="180.6" font-size="11.5" text-anchor="start" font-weight="bold" fill="#000"  stroke="#000" stroke-width="0.22">f</text>
<text x="101.8" y="159.6" font-size="12" text-anchor="start" font-weight="normal" fill="#000"  stroke="#000" stroke-width="0.22">nonmagnetic</text>
<text x="287.5" y="159.6" font-size="12" text-anchor="start" font-weight="normal" fill="#000"  stroke="#000" stroke-width="0.22">d-wave</text>
<text x="384.1" y="159.6" font-size="12" text-anchor="start" font-weight="normal" fill="#000"  stroke="#000" stroke-width="0.22">AHC (S/cm)</text>
<text x="44.4" y="170.0" font-size="12" text-anchor="end" font-weight="normal" fill="#000"  stroke="#000" stroke-width="0.22">0.4</text>
<text x="44.8" y="267.7" font-size="12" text-anchor="end" font-weight="normal" fill="#000"  stroke="#000" stroke-width="0.22">0</text>
<text x="44.6" y="365.8" font-size="12" text-anchor="end" font-weight="normal" fill="#000"  stroke="#000" stroke-width="0.22">-0.4</text>
<text transform="translate(9.6,262.5) rotate(-90)" font-size="12" text-anchor="middle" stroke="#000" stroke-width="0.22">Energy (eV)</text>
<text x="46.1" y="382.4" font-size="12" stroke="#000" stroke-width="0.22">Γ</text>
<text x="64.5" y="382.4" font-size="12" stroke="#000" stroke-width="0.22">M</text>
<path d="M77.2,377.4 L77.2,384.6 M77.3,377.5 L75.3,379.4" stroke="#000" stroke-width="1.1" fill="none"/>
<text x="78.3" y="382.4" font-size="12" stroke="#000" stroke-width="0.22">K</text>
<text x="88.9" y="382.4" font-size="12" stroke="#000" stroke-width="0.22">-M</text>
<text x="102.8" y="384.4" font-size="10" stroke="#000" stroke-width="0.22">2</text>
<text x="114.4" y="382.4" font-size="12" stroke="#000" stroke-width="0.22">Γ</text>
<text x="138.6" y="382.4" font-size="12" stroke="#000" stroke-width="0.22">A</text>
<text x="158.7" y="382.4" font-size="12" stroke="#000" stroke-width="0.22">L</text>
<path d="M168.6,377.4 L168.6,384.6 M168.7,377.5 L166.7,379.4" stroke="#000" stroke-width="1.1" fill="none"/>
<text x="170.7" y="382.4" font-size="12" stroke="#000" stroke-width="0.22">H</text>
<text x="182.8" y="382.4" font-size="12" stroke="#000" stroke-width="0.22">-L</text>
<text x="192.7" y="384.4" font-size="10" stroke="#000" stroke-width="0.22">2</text>
<text x="214.6" y="382.4" font-size="12" stroke="#000" stroke-width="0.22">Γ</text>
<text x="233.0" y="382.4" font-size="12" stroke="#000" stroke-width="0.22">M</text>
<path d="M245.7,377.4 L245.7,384.6 M245.8,377.5 L243.8,379.4" stroke="#000" stroke-width="1.1" fill="none"/>
<text x="246.8" y="382.4" font-size="12" stroke="#000" stroke-width="0.22">K</text>
<text x="257.4" y="382.4" font-size="12" stroke="#000" stroke-width="0.22">-M</text>
<text x="271.3" y="384.4" font-size="10" stroke="#000" stroke-width="0.22">2</text>
<text x="282.9" y="382.4" font-size="12" stroke="#000" stroke-width="0.22">Γ</text>
<text x="307.1" y="382.4" font-size="12" stroke="#000" stroke-width="0.22">A</text>
<text x="327.2" y="382.4" font-size="12" stroke="#000" stroke-width="0.22">L</text>
<path d="M337.1,377.4 L337.1,384.6 M337.2,377.5 L335.2,379.4" stroke="#000" stroke-width="1.1" fill="none"/>
<text x="339.2" y="382.4" font-size="12" stroke="#000" stroke-width="0.22">H</text>
<text x="351.3" y="382.4" font-size="12" stroke="#000" stroke-width="0.22">-L</text>
<text x="361.2" y="384.4" font-size="10" stroke="#000" stroke-width="0.22">2</text>
<text x="205.0" y="382.4" font-size="12" stroke="#000" stroke-width="0.22">A</text>
<text x="374.0" y="382.4" font-size="12" stroke="#000" stroke-width="0.22">A</text>
<text x="383.3" y="382.4" font-size="13" stroke="#000" stroke-width="0.22">-100</text>
<text x="420.3" y="382.4" font-size="13" stroke="#000" stroke-width="0.22">100</text>
<line x1="561.6" y1="20.8" x2="561.6" y2="327.3" stroke="#dedede" stroke-width="1"/>
<line x1="597.2" y1="20.8" x2="597.2" y2="327.3" stroke="#dedede" stroke-width="1"/>
<line x1="632.9" y1="20.8" x2="632.9" y2="327.3" stroke="#dedede" stroke-width="1"/>
<line x1="668.3" y1="20.8" x2="668.3" y2="327.3" stroke="#dedede" stroke-width="1"/>
<line x1="525.8" y1="20.8" x2="668.3" y2="20.8" stroke="#dedede" stroke-width="1"/>
<line x1="525.8" y1="97.4" x2="668.3" y2="97.4" stroke="#dedede" stroke-width="1"/>
<line x1="525.8" y1="174.0" x2="668.3" y2="174.0" stroke="#dedede" stroke-width="1"/>
<line x1="525.8" y1="250.6" x2="668.3" y2="250.6" stroke="#dedede" stroke-width="1"/>
<line x1="525.8" y1="20.8" x2="525.8" y2="327.3" stroke="#c8c8c8" stroke-width="1"/>
<line x1="525.3" y1="327.3" x2="668.3" y2="327.3" stroke="#555" stroke-width="1.1"/>
<text x="512.9" y="24.5" font-size="11.3" text-anchor="end" font-weight="normal" fill="#111"  stroke="#111" stroke-width="0.22">1000</text>
<text x="512.9" y="101.1" font-size="11.3" text-anchor="end" font-weight="normal" fill="#111"  stroke="#111" stroke-width="0.22">100</text>
<text x="512.9" y="177.8" font-size="11.3" text-anchor="end" font-weight="normal" fill="#111"  stroke="#111" stroke-width="0.22">10</text>
<text x="512.9" y="254.4" font-size="11.3" text-anchor="end" font-weight="normal" fill="#111"  stroke="#111" stroke-width="0.22">1</text>
<text x="512.9" y="331.2" font-size="11.3" text-anchor="end" font-weight="normal" fill="#111"  stroke="#111" stroke-width="0.22">0,1</text>
<text x="525.1" y="347.5" font-size="11.3" text-anchor="middle" font-weight="normal" fill="#111"  stroke="#111" stroke-width="0.22">0,0001</text>
<text x="560.6" y="347.5" font-size="11.3" text-anchor="middle" font-weight="normal" fill="#111"  stroke="#111" stroke-width="0.22">0,01</text>
<text x="596.6" y="347.5" font-size="11.3" text-anchor="middle" font-weight="normal" fill="#111"  stroke="#111" stroke-width="0.22">1</text>
<text x="632.2" y="347.5" font-size="11.3" text-anchor="middle" font-weight="normal" fill="#111"  stroke="#111" stroke-width="0.22">100</text>
<text x="668.2" y="347.5" font-size="11.3" text-anchor="middle" font-weight="normal" fill="#111"  stroke="#111" stroke-width="0.22">10000</text>
<text x="596.4" y="365.3" font-size="12.7" text-anchor="middle" font-weight="normal" fill="#111"  stroke="#111" stroke-width="0.22">Abundance (ppm)</text>
<text transform="translate(482.6,174.6) rotate(-90)" font-size="12.8" text-anchor="middle" fill="#111" stroke="#111" stroke-width="0.22">Critical temperature (K)</text>
<text x="468.8" y="24.2" font-size="12.3" text-anchor="start" font-weight="bold" fill="#000"  stroke="#000" stroke-width="0.22">g</text>
<line x1="543.2" y1="51" x2="542.1" y2="59.6" stroke="#777" stroke-width="0.6"/>
<line x1="557.5" y1="59.3" x2="566.6" y2="51.2" stroke="#777" stroke-width="0.6"/>
<line x1="605" y1="60.6" x2="621.9" y2="53.8" stroke="#777" stroke-width="0.6"/>
<line x1="650.8" y1="66" x2="657.8" y2="46.8" stroke="#777" stroke-width="0.6"/>
<line x1="620" y1="138.3" x2="633.6" y2="143.4" stroke="#777" stroke-width="0.6"/>
<line x1="544" y1="251" x2="545.2" y2="261.8" stroke="#777" stroke-width="0.6"/>
<line x1="604.5" y1="251" x2="608.8" y2="265.7" stroke="#777" stroke-width="0.6"/>
<circle cx="543.2" cy="50.8" r="3.1" fill="url(#sphW)"/>
<circle cx="555.5" cy="60.9" r="3.3" fill="url(#sphB)"/>
<circle cx="599.4" cy="60.8" r="3.3" fill="url(#sphB)"/>
<circle cx="602.9" cy="60.8" r="3.3" fill="url(#sphB)"/>
<circle cx="650.0" cy="67.8" r="3.3" fill="url(#sphM)"/>
<circle cx="629.4" cy="93.9" r="3.0" fill="url(#sphW)"/>
<circle cx="619.9" cy="138.3" r="3.3" fill="url(#sphB)"/>
<circle cx="555.8" cy="219.9" r="3.0" fill="url(#sphW)"/>
<circle cx="543.4" cy="250.6" r="3.3" fill="url(#sphB)"/>
<circle cx="604.4" cy="250.6" r="3.1" fill="url(#sphW)"/>
<text x="549.0" y="48.3" font-size="12.8" fill="#333" stroke="#333" stroke-width="0.22">Mn<tspan font-size="8.2" dy="2.6">3</tspan><tspan dy="-2.6"></tspan>Pt</text>
<text x="526.4" y="73.7" font-size="12.8" fill="#333" stroke="#333" stroke-width="0.22">RuO<tspan font-size="8.2" dy="2.6">2</tspan><tspan dy="-2.6"></tspan></text>
<text x="601.9" y="51.8" font-size="12.8" fill="#333" stroke="#333" stroke-width="0.22">Mn<tspan font-size="8.2" dy="2.6">3</tspan><tspan dy="-2.6"></tspan>Sn</text>
<text x="638.9" y="44.5" font-size="12.8" fill="#ff30ff" stroke="#ff30ff" stroke-width="0.22">Mn<tspan font-size="8.2" dy="2.6">5</tspan><tspan dy="-2.6"></tspan>Si<tspan font-size="8.2" dy="2.6">3</tspan><tspan dy="-2.6"></tspan></text>
<text x="577.8" y="84.3" font-size="12.8" fill="#333" stroke="#333" stroke-width="0.22">Mn<tspan font-size="8.2" dy="2.6">3</tspan><tspan dy="-2.6"></tspan>Ge</text>
<text x="592.7" y="107.6" font-size="12.8" fill="#333" stroke="#333" stroke-width="0.22">(Ca,Ce)MnO</text>
<text x="627.2" y="124.6" font-size="8.5" text-anchor="start" font-weight="normal" fill="#333"  stroke="#333" stroke-width="0.22">3</text>
<text x="608.1" y="159.0" font-size="12.8" fill="#333" stroke="#333" stroke-width="0.22">CoNb<tspan font-size="8.2" dy="2.6">3</tspan><tspan dy="-2.6"></tspan>S<tspan font-size="8.2" dy="2.6">6</tspan><tspan dy="-2.6"></tspan></text>
<text x="564.2" y="224.9" font-size="12.8" fill="#333" stroke="#333" stroke-width="0.22">GdPtBi</text>
<text x="527.2" y="275" font-size="12.8" fill="#333" stroke="#333" stroke-width="0.22">Pr<tspan font-size="6.5" dy="1">2</tspan><tspan dy="-1">Ir</tspan><tspan font-size="6.5" dy="1">2</tspan><tspan font-size="9" dy="-0.5">O</tspan><tspan font-size="6.5" dy="1">7</tspan></text>
<text x="593.4" y="279.3" font-size="12.8" fill="#333" stroke="#333" stroke-width="0.22">UCu<tspan font-size="8.2" dy="2.6">5</tspan><tspan dy="-2.6"></tspan></text>

</svg>
</body></html>
